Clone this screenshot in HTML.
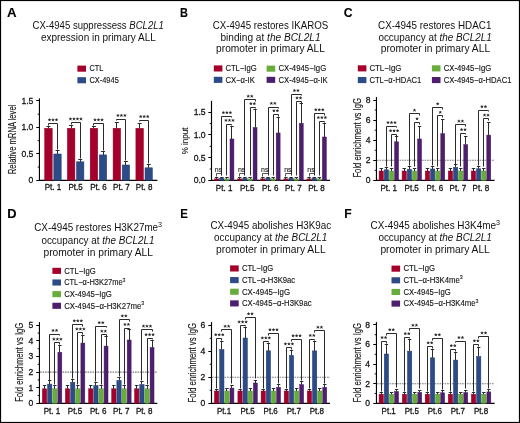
<!DOCTYPE html>
<html><head><meta charset="utf-8"><style>
html,body{margin:0;padding:0;background:#fff;}
body{width:520px;height:423px;overflow:hidden;}
svg{display:block;font-family:"Liberation Sans",sans-serif;will-change:transform;}
text{stroke:#111;stroke-width:0.12px;}
</style></head><body>
<svg width="520" height="423" viewBox="0 0 520 423">
<rect x="0" y="0" width="520" height="423" fill="#fff"/>
<text x="6.90" y="17.20" font-size="12.6" textLength="9.60" lengthAdjust="spacingAndGlyphs" font-weight="bold" fill="#000">A</text>
<text x="179.90" y="17.20" font-size="12.6" textLength="7.90" lengthAdjust="spacingAndGlyphs" font-weight="bold" fill="#000">B</text>
<text x="343.70" y="17.20" font-size="12.6" textLength="8.80" lengthAdjust="spacingAndGlyphs" font-weight="bold" fill="#000">C</text>
<text x="7.30" y="218.20" font-size="12.6" textLength="9.30" lengthAdjust="spacingAndGlyphs" font-weight="bold" fill="#000">D</text>
<text x="180.20" y="218.20" font-size="12.6" textLength="7.60" lengthAdjust="spacingAndGlyphs" font-weight="bold" fill="#000">E</text>
<text x="344.30" y="218.20" font-size="12.6" textLength="7.40" lengthAdjust="spacingAndGlyphs" font-weight="bold" fill="#000">F</text>
<text x="98.20" y="28.90" font-size="10.2" text-anchor="middle" textLength="131.40" lengthAdjust="spacingAndGlyphs" fill="#111" style="stroke-width:0">CX-4945 suppressess <tspan font-style="italic">BCL2L1</tspan></text>
<text x="98.35" y="40.70" font-size="10.2" text-anchor="middle" textLength="114.90" lengthAdjust="spacingAndGlyphs" fill="#111" style="stroke-width:0">expression in primary ALL</text>
<text x="270.50" y="28.80" font-size="10.2" text-anchor="middle" textLength="115.60" lengthAdjust="spacingAndGlyphs" fill="#111" style="stroke-width:0">CX-4945 restores IKAROS</text>
<text x="270.50" y="40.70" font-size="10.2" text-anchor="middle" textLength="100.20" lengthAdjust="spacingAndGlyphs" fill="#111" style="stroke-width:0">binding at <tspan font-style="italic">the BCL2L1</tspan></text>
<text x="270.50" y="52.40" font-size="10.2" text-anchor="middle" textLength="108.80" lengthAdjust="spacingAndGlyphs" fill="#111" style="stroke-width:0">promoter in primary ALL</text>
<text x="434.75" y="28.80" font-size="10.2" text-anchor="middle" textLength="113.30" lengthAdjust="spacingAndGlyphs" fill="#111" style="stroke-width:0">CX-4945 restores HDAC1</text>
<text x="435.05" y="40.70" font-size="10.2" text-anchor="middle" textLength="113.30" lengthAdjust="spacingAndGlyphs" fill="#111" style="stroke-width:0">occupancy at <tspan font-style="italic">the BCL2L1</tspan></text>
<text x="435.40" y="52.40" font-size="10.2" text-anchor="middle" textLength="109.40" lengthAdjust="spacingAndGlyphs" fill="#111" style="stroke-width:0">promoter in primary ALL</text>
<text x="98.15" y="231.30" font-size="10.2" text-anchor="middle" textLength="127.90" lengthAdjust="spacingAndGlyphs" fill="#111" style="stroke-width:0">CX-4945 restores H3K27me<tspan dy="-4.0" font-size="7.4">3</tspan></text>
<text x="97.90" y="243.60" font-size="10.2" text-anchor="middle" textLength="113.00" lengthAdjust="spacingAndGlyphs" fill="#111" style="stroke-width:0">occupancy at <tspan font-style="italic">the BCL2L1</tspan></text>
<text x="98.20" y="255.70" font-size="10.2" text-anchor="middle" textLength="109.40" lengthAdjust="spacingAndGlyphs" fill="#111" style="stroke-width:0">promoter in primary ALL</text>
<text x="270.80" y="228.90" font-size="10.2" text-anchor="middle" textLength="120.80" lengthAdjust="spacingAndGlyphs" fill="#111" style="stroke-width:0">CX-4945 abolishes H3K9ac</text>
<text x="270.70" y="241.00" font-size="10.2" text-anchor="middle" textLength="113.20" lengthAdjust="spacingAndGlyphs" fill="#111" style="stroke-width:0">occupancy at <tspan font-style="italic">the BCL2L1</tspan></text>
<text x="270.85" y="252.90" font-size="10.2" text-anchor="middle" textLength="109.50" lengthAdjust="spacingAndGlyphs" fill="#111" style="stroke-width:0">promoter in primary ALL</text>
<text x="435.35" y="228.80" font-size="10.2" text-anchor="middle" textLength="129.50" lengthAdjust="spacingAndGlyphs" fill="#111" style="stroke-width:0">CX-4945 abolishes H3K4me<tspan dy="-4.0" font-size="7.4">3</tspan></text>
<text x="435.15" y="241.00" font-size="10.2" text-anchor="middle" textLength="113.50" lengthAdjust="spacingAndGlyphs" fill="#111" style="stroke-width:0">occupancy at <tspan font-style="italic">the BCL2L1</tspan></text>
<text x="435.10" y="252.90" font-size="10.2" text-anchor="middle" textLength="109.40" lengthAdjust="spacingAndGlyphs" fill="#111" style="stroke-width:0">promoter in primary ALL</text>
<rect x="77.40" y="65.60" width="8.60" height="6.10" fill="#a5002b"/>
<text x="89.40" y="71.40" font-size="8.8" textLength="13.80" lengthAdjust="spacingAndGlyphs" fill="#111">CTL</text>
<rect x="77.40" y="77.20" width="8.60" height="6.10" fill="#2d4b86"/>
<text x="89.40" y="83.00" font-size="8.8" textLength="29.40" lengthAdjust="spacingAndGlyphs" fill="#111">CX-4945</text>
<rect x="213.80" y="65.40" width="8.60" height="6.10" fill="#a5002b"/>
<text x="225.40" y="71.20" font-size="8.8" textLength="31.20" lengthAdjust="spacingAndGlyphs" fill="#111">CTL−IgG</text>
<rect x="213.80" y="76.80" width="8.60" height="6.10" fill="#2d4b86"/>
<text x="225.40" y="82.60" font-size="8.8" textLength="29.40" lengthAdjust="spacingAndGlyphs" fill="#111">CX−α-IK</text>
<rect x="266.60" y="65.60" width="8.60" height="6.10" fill="#68ad3c"/>
<text x="278.50" y="71.40" font-size="8.8" textLength="47.70" lengthAdjust="spacingAndGlyphs" fill="#111">CX-4945−IgG</text>
<rect x="266.60" y="76.80" width="8.60" height="6.10" fill="#4e1f6e"/>
<text x="278.50" y="82.60" font-size="8.8" textLength="49.20" lengthAdjust="spacingAndGlyphs" fill="#111">CX-4945−α-IK</text>
<rect x="357.80" y="65.30" width="8.60" height="6.10" fill="#a5002b"/>
<text x="369.40" y="71.10" font-size="8.8" textLength="32.00" lengthAdjust="spacingAndGlyphs" fill="#111">CTL−IgG</text>
<rect x="357.80" y="77.00" width="8.60" height="6.10" fill="#2d4b86"/>
<text x="369.40" y="82.80" font-size="8.8" textLength="51.90" lengthAdjust="spacingAndGlyphs" fill="#111">CTL−α-HDAC1</text>
<rect x="431.90" y="65.30" width="8.60" height="6.10" fill="#68ad3c"/>
<text x="443.70" y="71.10" font-size="8.8" textLength="47.60" lengthAdjust="spacingAndGlyphs" fill="#111">CX-4945−IgG</text>
<rect x="431.90" y="77.00" width="8.60" height="6.10" fill="#4e1f6e"/>
<text x="443.70" y="82.80" font-size="8.8" textLength="67.80" lengthAdjust="spacingAndGlyphs" fill="#111">CX-4945−α-HDAC1</text>
<rect x="52.40" y="267.80" width="8.60" height="6.10" fill="#a5002b"/>
<text x="64.20" y="273.60" font-size="8.8" textLength="31.60" lengthAdjust="spacingAndGlyphs" fill="#111">CTL−IgG</text>
<rect x="52.40" y="279.45" width="8.60" height="6.10" fill="#2d4b86"/>
<text x="64.20" y="285.25" font-size="8.8" textLength="61.20" lengthAdjust="spacingAndGlyphs" fill="#111">CTL−α-H3K27me<tspan dy="-3.7" font-size="6.0">3</tspan></text>
<rect x="52.40" y="291.10" width="8.60" height="6.10" fill="#68ad3c"/>
<text x="64.20" y="296.90" font-size="8.8" textLength="47.60" lengthAdjust="spacingAndGlyphs" fill="#111">CX-4945−IgG</text>
<rect x="52.40" y="302.75" width="8.60" height="6.10" fill="#4e1f6e"/>
<text x="64.20" y="308.55" font-size="8.8" textLength="80.10" lengthAdjust="spacingAndGlyphs" fill="#111">CX-4945−α-H3K27me<tspan dy="-3.7" font-size="6.0">3</tspan></text>
<rect x="230.10" y="265.40" width="8.60" height="6.10" fill="#a5002b"/>
<text x="241.90" y="271.20" font-size="8.8" textLength="31.30" lengthAdjust="spacingAndGlyphs" fill="#111">CTL−IgG</text>
<rect x="230.10" y="277.05" width="8.60" height="6.10" fill="#2d4b86"/>
<text x="241.90" y="282.85" font-size="8.8" textLength="53.30" lengthAdjust="spacingAndGlyphs" fill="#111">CTL−α-H3K9ac</text>
<rect x="230.10" y="288.70" width="8.60" height="6.10" fill="#68ad3c"/>
<text x="241.90" y="294.50" font-size="8.8" textLength="48.20" lengthAdjust="spacingAndGlyphs" fill="#111">CX-4945−IgG</text>
<rect x="230.10" y="300.35" width="8.60" height="6.10" fill="#4e1f6e"/>
<text x="241.90" y="306.15" font-size="8.8" textLength="69.70" lengthAdjust="spacingAndGlyphs" fill="#111">CX-4945−α-H3K9ac</text>
<rect x="391.50" y="265.60" width="8.60" height="6.10" fill="#a5002b"/>
<text x="403.40" y="271.40" font-size="8.8" textLength="31.70" lengthAdjust="spacingAndGlyphs" fill="#111">CTL−IgG</text>
<rect x="391.50" y="277.25" width="8.60" height="6.10" fill="#2d4b86"/>
<text x="403.40" y="283.05" font-size="8.8" textLength="59.40" lengthAdjust="spacingAndGlyphs" fill="#111">CTL−α-H3K4me<tspan dy="-3.7" font-size="6.0">3</tspan></text>
<rect x="391.50" y="288.90" width="8.60" height="6.10" fill="#68ad3c"/>
<text x="403.40" y="294.70" font-size="8.8" textLength="47.40" lengthAdjust="spacingAndGlyphs" fill="#111">CX-4945−IgG</text>
<rect x="391.50" y="300.55" width="8.60" height="6.10" fill="#4e1f6e"/>
<text x="403.40" y="306.35" font-size="8.8" textLength="75.10" lengthAdjust="spacingAndGlyphs" fill="#111">CX-4945−α-H3K4me<tspan dy="-3.7" font-size="6.0">3</tspan></text>
<line x1="39.45" y1="98.40" x2="39.45" y2="181.00" stroke="#000" stroke-width="1.15"/>
<line x1="38.90" y1="180.40" x2="157.40" y2="180.40" stroke="#000" stroke-width="1.2"/>
<line x1="36.25" y1="180.50" x2="39.45" y2="180.50" stroke="#000" stroke-width="1.0"/>
<text x="33.40" y="183.20" font-size="9.2" text-anchor="end" textLength="4.78" lengthAdjust="spacingAndGlyphs" fill="#111" style="stroke-width:0.28px">0</text>
<line x1="36.25" y1="153.50" x2="39.45" y2="153.50" stroke="#000" stroke-width="1.0"/>
<text x="33.40" y="156.75" font-size="9.2" text-anchor="end" textLength="11.95" lengthAdjust="spacingAndGlyphs" fill="#111" style="stroke-width:0.28px">0.5</text>
<line x1="36.25" y1="127.50" x2="39.45" y2="127.50" stroke="#000" stroke-width="1.0"/>
<text x="33.40" y="130.30" font-size="9.2" text-anchor="end" textLength="11.95" lengthAdjust="spacingAndGlyphs" fill="#111" style="stroke-width:0.28px">1.0</text>
<line x1="36.25" y1="100.50" x2="39.45" y2="100.50" stroke="#000" stroke-width="1.0"/>
<text x="33.40" y="103.85" font-size="9.2" text-anchor="end" textLength="11.95" lengthAdjust="spacingAndGlyphs" fill="#111" style="stroke-width:0.28px">1.5</text>
<line x1="37.65" y1="167.08" x2="39.45" y2="167.08" stroke="#000" stroke-width="0.9"/>
<line x1="37.65" y1="140.62" x2="39.45" y2="140.62" stroke="#000" stroke-width="0.9"/>
<line x1="37.65" y1="114.18" x2="39.45" y2="114.18" stroke="#000" stroke-width="0.9"/>
<text x="16.00" y="139.40" font-size="10.4" text-anchor="middle" textLength="69.50" lengthAdjust="spacingAndGlyphs" transform="rotate(-90 16.00 139.40)" fill="#111">Relative mRNA level</text>
<rect x="44.70" y="128.30" width="7.50" height="52.00" fill="#a5002b" stroke="#8a0020" stroke-width="0.5"/>
<rect x="53.80" y="154.00" width="7.40" height="26.30" fill="#2d4b86" stroke="#1f3a74" stroke-width="0.5"/>
<line x1="48.50" y1="128.30" x2="48.50" y2="126.40" stroke="#2a2a2a" stroke-width="1.0"/>
<line x1="46.45" y1="126.50" x2="50.45" y2="126.50" stroke="#2a2a2a" stroke-width="1.0"/>
<line x1="57.50" y1="154.00" x2="57.50" y2="150.70" stroke="#2a2a2a" stroke-width="1.0"/>
<line x1="55.50" y1="150.50" x2="59.50" y2="150.50" stroke="#2a2a2a" stroke-width="1.0"/>
<polyline points="48.50,125.50 48.50,123.50 57.50,123.50 57.50,149.50" fill="none" stroke="#2a2a2a" stroke-width="1.0"/>
<path d="M49.50,119.90L49.50,118.80M49.50,119.90L50.55,119.56M49.50,119.90L50.15,120.79M49.50,119.90L48.85,120.79M49.50,119.90L48.45,119.56" stroke="#222" stroke-width="0.8" stroke-linecap="round" fill="none"/>
<path d="M53.00,119.90L53.00,118.80M53.00,119.90L54.05,119.56M53.00,119.90L53.65,120.79M53.00,119.90L52.35,120.79M53.00,119.90L51.95,119.56" stroke="#222" stroke-width="0.8" stroke-linecap="round" fill="none"/>
<path d="M56.50,119.90L56.50,118.80M56.50,119.90L57.55,119.56M56.50,119.90L57.15,120.79M56.50,119.90L55.85,120.79M56.50,119.90L55.45,119.56" stroke="#222" stroke-width="0.8" stroke-linecap="round" fill="none"/>
<text x="52.95" y="190.40" font-size="9.3" text-anchor="middle" textLength="16.56" lengthAdjust="spacingAndGlyphs" fill="#111" style="stroke-width:0.3px">Pt. 1</text>
<rect x="67.40" y="128.30" width="7.50" height="52.00" fill="#a5002b" stroke="#8a0020" stroke-width="0.5"/>
<rect x="76.50" y="161.80" width="7.40" height="18.50" fill="#2d4b86" stroke="#1f3a74" stroke-width="0.5"/>
<line x1="71.50" y1="128.30" x2="71.50" y2="125.20" stroke="#2a2a2a" stroke-width="1.0"/>
<line x1="69.15" y1="125.50" x2="73.15" y2="125.50" stroke="#2a2a2a" stroke-width="1.0"/>
<line x1="80.50" y1="161.80" x2="80.50" y2="159.10" stroke="#2a2a2a" stroke-width="1.0"/>
<line x1="78.20" y1="159.50" x2="82.20" y2="159.50" stroke="#2a2a2a" stroke-width="1.0"/>
<polyline points="71.50,124.50 71.50,122.50 80.50,122.50 80.50,158.50" fill="none" stroke="#2a2a2a" stroke-width="1.0"/>
<path d="M70.45,119.00L70.45,117.90M70.45,119.00L71.50,118.66M70.45,119.00L71.10,119.89M70.45,119.00L69.80,119.89M70.45,119.00L69.40,118.66" stroke="#222" stroke-width="0.8" stroke-linecap="round" fill="none"/>
<path d="M73.95,119.00L73.95,117.90M73.95,119.00L75.00,118.66M73.95,119.00L74.60,119.89M73.95,119.00L73.30,119.89M73.95,119.00L72.90,118.66" stroke="#222" stroke-width="0.8" stroke-linecap="round" fill="none"/>
<path d="M77.45,119.00L77.45,117.90M77.45,119.00L78.50,118.66M77.45,119.00L78.10,119.89M77.45,119.00L76.80,119.89M77.45,119.00L76.40,118.66" stroke="#222" stroke-width="0.8" stroke-linecap="round" fill="none"/>
<path d="M80.95,119.00L80.95,117.90M80.95,119.00L82.00,118.66M80.95,119.00L81.60,119.89M80.95,119.00L80.30,119.89M80.95,119.00L79.90,118.66" stroke="#222" stroke-width="0.8" stroke-linecap="round" fill="none"/>
<text x="75.65" y="190.40" font-size="9.3" text-anchor="middle" textLength="14.32" lengthAdjust="spacingAndGlyphs" fill="#111" style="stroke-width:0.3px">Pt.5</text>
<rect x="90.20" y="128.30" width="7.50" height="52.00" fill="#a5002b" stroke="#8a0020" stroke-width="0.5"/>
<rect x="99.30" y="154.90" width="7.40" height="25.40" fill="#2d4b86" stroke="#1f3a74" stroke-width="0.5"/>
<line x1="93.50" y1="128.30" x2="93.50" y2="126.40" stroke="#2a2a2a" stroke-width="1.0"/>
<line x1="91.95" y1="126.50" x2="95.95" y2="126.50" stroke="#2a2a2a" stroke-width="1.0"/>
<line x1="103.50" y1="154.90" x2="103.50" y2="151.00" stroke="#2a2a2a" stroke-width="1.0"/>
<line x1="101.00" y1="151.50" x2="105.00" y2="151.50" stroke="#2a2a2a" stroke-width="1.0"/>
<polyline points="93.50,125.50 93.50,123.50 103.50,123.50 103.50,150.50" fill="none" stroke="#2a2a2a" stroke-width="1.0"/>
<path d="M95.00,119.90L95.00,118.80M95.00,119.90L96.05,119.56M95.00,119.90L95.65,120.79M95.00,119.90L94.35,120.79M95.00,119.90L93.95,119.56" stroke="#222" stroke-width="0.8" stroke-linecap="round" fill="none"/>
<path d="M98.50,119.90L98.50,118.80M98.50,119.90L99.55,119.56M98.50,119.90L99.15,120.79M98.50,119.90L97.85,120.79M98.50,119.90L97.45,119.56" stroke="#222" stroke-width="0.8" stroke-linecap="round" fill="none"/>
<path d="M102.00,119.90L102.00,118.80M102.00,119.90L103.05,119.56M102.00,119.90L102.65,120.79M102.00,119.90L101.35,120.79M102.00,119.90L100.95,119.56" stroke="#222" stroke-width="0.8" stroke-linecap="round" fill="none"/>
<text x="98.45" y="190.40" font-size="9.3" text-anchor="middle" textLength="16.56" lengthAdjust="spacingAndGlyphs" fill="#111" style="stroke-width:0.3px">Pt. 6</text>
<rect x="113.10" y="128.30" width="7.50" height="52.00" fill="#a5002b" stroke="#8a0020" stroke-width="0.5"/>
<rect x="122.20" y="165.00" width="7.40" height="15.30" fill="#2d4b86" stroke="#1f3a74" stroke-width="0.5"/>
<line x1="116.50" y1="128.30" x2="116.50" y2="122.20" stroke="#2a2a2a" stroke-width="1.0"/>
<line x1="114.85" y1="122.50" x2="118.85" y2="122.50" stroke="#2a2a2a" stroke-width="1.0"/>
<line x1="125.50" y1="165.00" x2="125.50" y2="161.00" stroke="#2a2a2a" stroke-width="1.0"/>
<line x1="123.90" y1="161.50" x2="127.90" y2="161.50" stroke="#2a2a2a" stroke-width="1.0"/>
<polyline points="116.50,120.50 116.50,119.50 125.50,119.50 125.50,160.50" fill="none" stroke="#2a2a2a" stroke-width="1.0"/>
<path d="M117.90,115.50L117.90,114.40M117.90,115.50L118.95,115.16M117.90,115.50L118.55,116.39M117.90,115.50L117.25,116.39M117.90,115.50L116.85,115.16" stroke="#222" stroke-width="0.8" stroke-linecap="round" fill="none"/>
<path d="M121.40,115.50L121.40,114.40M121.40,115.50L122.45,115.16M121.40,115.50L122.05,116.39M121.40,115.50L120.75,116.39M121.40,115.50L120.35,115.16" stroke="#222" stroke-width="0.8" stroke-linecap="round" fill="none"/>
<path d="M124.90,115.50L124.90,114.40M124.90,115.50L125.95,115.16M124.90,115.50L125.55,116.39M124.90,115.50L124.25,116.39M124.90,115.50L123.85,115.16" stroke="#222" stroke-width="0.8" stroke-linecap="round" fill="none"/>
<text x="121.35" y="190.40" font-size="9.3" text-anchor="middle" textLength="16.56" lengthAdjust="spacingAndGlyphs" fill="#111" style="stroke-width:0.3px">Pt. 7</text>
<rect x="135.90" y="128.30" width="7.50" height="52.00" fill="#a5002b" stroke="#8a0020" stroke-width="0.5"/>
<rect x="145.00" y="167.80" width="7.40" height="12.50" fill="#2d4b86" stroke="#1f3a74" stroke-width="0.5"/>
<line x1="139.50" y1="128.30" x2="139.50" y2="123.10" stroke="#2a2a2a" stroke-width="1.0"/>
<line x1="137.65" y1="123.50" x2="141.65" y2="123.50" stroke="#2a2a2a" stroke-width="1.0"/>
<line x1="148.50" y1="167.80" x2="148.50" y2="164.10" stroke="#2a2a2a" stroke-width="1.0"/>
<line x1="146.70" y1="164.50" x2="150.70" y2="164.50" stroke="#2a2a2a" stroke-width="1.0"/>
<polyline points="139.50,121.50 139.50,120.50 148.50,120.50 148.50,163.50" fill="none" stroke="#2a2a2a" stroke-width="1.0"/>
<path d="M140.70,116.60L140.70,115.50M140.70,116.60L141.75,116.26M140.70,116.60L141.35,117.49M140.70,116.60L140.05,117.49M140.70,116.60L139.65,116.26" stroke="#222" stroke-width="0.8" stroke-linecap="round" fill="none"/>
<path d="M144.20,116.60L144.20,115.50M144.20,116.60L145.25,116.26M144.20,116.60L144.85,117.49M144.20,116.60L143.55,117.49M144.20,116.60L143.15,116.26" stroke="#222" stroke-width="0.8" stroke-linecap="round" fill="none"/>
<path d="M147.70,116.60L147.70,115.50M147.70,116.60L148.75,116.26M147.70,116.60L148.35,117.49M147.70,116.60L147.05,117.49M147.70,116.60L146.65,116.26" stroke="#222" stroke-width="0.8" stroke-linecap="round" fill="none"/>
<text x="144.15" y="190.40" font-size="9.3" text-anchor="middle" textLength="16.56" lengthAdjust="spacingAndGlyphs" fill="#111" style="stroke-width:0.3px">Pt. 8</text>
<line x1="211.50" y1="100.90" x2="211.50" y2="181.00" stroke="#000" stroke-width="1.15"/>
<line x1="210.95" y1="180.40" x2="330.00" y2="180.40" stroke="#000" stroke-width="1.2"/>
<line x1="208.30" y1="180.50" x2="211.50" y2="180.50" stroke="#000" stroke-width="1.0"/>
<text x="205.60" y="183.30" font-size="9.2" text-anchor="end" textLength="11.95" lengthAdjust="spacingAndGlyphs" fill="#111" style="stroke-width:0.28px">0.0</text>
<line x1="208.30" y1="157.50" x2="211.50" y2="157.50" stroke="#000" stroke-width="1.0"/>
<text x="205.60" y="160.58" font-size="9.2" text-anchor="end" textLength="11.95" lengthAdjust="spacingAndGlyphs" fill="#111" style="stroke-width:0.28px">0.5</text>
<line x1="208.30" y1="134.50" x2="211.50" y2="134.50" stroke="#000" stroke-width="1.0"/>
<text x="205.60" y="137.85" font-size="9.2" text-anchor="end" textLength="11.95" lengthAdjust="spacingAndGlyphs" fill="#111" style="stroke-width:0.28px">1.0</text>
<line x1="208.30" y1="112.50" x2="211.50" y2="112.50" stroke="#000" stroke-width="1.0"/>
<text x="205.60" y="115.12" font-size="9.2" text-anchor="end" textLength="11.95" lengthAdjust="spacingAndGlyphs" fill="#111" style="stroke-width:0.28px">1.5</text>
<line x1="209.70" y1="169.04" x2="211.50" y2="169.04" stroke="#000" stroke-width="0.9"/>
<line x1="209.70" y1="146.31" x2="211.50" y2="146.31" stroke="#000" stroke-width="0.9"/>
<line x1="209.70" y1="123.59" x2="211.50" y2="123.59" stroke="#000" stroke-width="0.9"/>
<rect x="214.50" y="178.90" width="4.30" height="1.50" fill="#a5002b" stroke="#8a0020" stroke-width="0.5"/>
<line x1="216.50" y1="178.90" x2="216.50" y2="177.20" stroke="#2a2a2a" stroke-width="1.0"/>
<line x1="214.95" y1="177.50" x2="218.35" y2="177.50" stroke="#2a2a2a" stroke-width="1.0"/>
<rect x="219.67" y="178.20" width="4.30" height="2.20" fill="#2d4b86" stroke="#1f3a74" stroke-width="0.5"/>
<line x1="221.50" y1="178.20" x2="221.50" y2="177.00" stroke="#2a2a2a" stroke-width="1.0"/>
<line x1="220.12" y1="177.50" x2="223.52" y2="177.50" stroke="#2a2a2a" stroke-width="1.0"/>
<rect x="224.84" y="178.90" width="4.30" height="1.50" fill="#68ad3c" stroke="#5a9a30" stroke-width="0.5"/>
<line x1="226.50" y1="178.90" x2="226.50" y2="177.20" stroke="#2a2a2a" stroke-width="1.0"/>
<line x1="225.29" y1="177.50" x2="228.69" y2="177.50" stroke="#2a2a2a" stroke-width="1.0"/>
<rect x="230.01" y="139.00" width="3.90" height="41.40" fill="#4e1f6e" stroke="#3e1559" stroke-width="0.5"/>
<line x1="231.50" y1="139.00" x2="231.50" y2="126.70" stroke="#2a2a2a" stroke-width="1.0"/>
<line x1="230.26" y1="126.50" x2="233.66" y2="126.50" stroke="#2a2a2a" stroke-width="1.0"/>
<text x="224.10" y="190.70" font-size="9.3" text-anchor="middle" textLength="16.56" lengthAdjust="spacingAndGlyphs" fill="#111" style="stroke-width:0.3px">Pt. 1</text>
<rect x="237.60" y="178.90" width="4.30" height="1.50" fill="#a5002b" stroke="#8a0020" stroke-width="0.5"/>
<line x1="239.50" y1="178.90" x2="239.50" y2="177.20" stroke="#2a2a2a" stroke-width="1.0"/>
<line x1="238.05" y1="177.50" x2="241.45" y2="177.50" stroke="#2a2a2a" stroke-width="1.0"/>
<rect x="242.77" y="178.20" width="4.30" height="2.20" fill="#2d4b86" stroke="#1f3a74" stroke-width="0.5"/>
<line x1="244.50" y1="178.20" x2="244.50" y2="177.00" stroke="#2a2a2a" stroke-width="1.0"/>
<line x1="243.22" y1="177.50" x2="246.62" y2="177.50" stroke="#2a2a2a" stroke-width="1.0"/>
<rect x="247.94" y="178.90" width="4.30" height="1.50" fill="#68ad3c" stroke="#5a9a30" stroke-width="0.5"/>
<line x1="250.50" y1="178.90" x2="250.50" y2="177.20" stroke="#2a2a2a" stroke-width="1.0"/>
<line x1="248.39" y1="177.50" x2="251.79" y2="177.50" stroke="#2a2a2a" stroke-width="1.0"/>
<rect x="253.11" y="127.60" width="3.90" height="52.80" fill="#4e1f6e" stroke="#3e1559" stroke-width="0.5"/>
<line x1="255.50" y1="127.60" x2="255.50" y2="109.60" stroke="#2a2a2a" stroke-width="1.0"/>
<line x1="253.36" y1="109.50" x2="256.76" y2="109.50" stroke="#2a2a2a" stroke-width="1.0"/>
<text x="247.21" y="190.70" font-size="9.3" text-anchor="middle" textLength="14.32" lengthAdjust="spacingAndGlyphs" fill="#111" style="stroke-width:0.3px">Pt.5</text>
<rect x="260.70" y="178.90" width="4.30" height="1.50" fill="#a5002b" stroke="#8a0020" stroke-width="0.5"/>
<line x1="262.50" y1="178.90" x2="262.50" y2="177.20" stroke="#2a2a2a" stroke-width="1.0"/>
<line x1="261.15" y1="177.50" x2="264.55" y2="177.50" stroke="#2a2a2a" stroke-width="1.0"/>
<rect x="265.87" y="178.20" width="4.30" height="2.20" fill="#2d4b86" stroke="#1f3a74" stroke-width="0.5"/>
<line x1="268.50" y1="178.20" x2="268.50" y2="177.00" stroke="#2a2a2a" stroke-width="1.0"/>
<line x1="266.32" y1="177.50" x2="269.72" y2="177.50" stroke="#2a2a2a" stroke-width="1.0"/>
<rect x="271.04" y="178.90" width="4.30" height="1.50" fill="#68ad3c" stroke="#5a9a30" stroke-width="0.5"/>
<line x1="273.50" y1="178.90" x2="273.50" y2="177.20" stroke="#2a2a2a" stroke-width="1.0"/>
<line x1="271.49" y1="177.50" x2="274.89" y2="177.50" stroke="#2a2a2a" stroke-width="1.0"/>
<rect x="276.21" y="133.00" width="3.90" height="47.40" fill="#4e1f6e" stroke="#3e1559" stroke-width="0.5"/>
<line x1="278.50" y1="133.00" x2="278.50" y2="117.00" stroke="#2a2a2a" stroke-width="1.0"/>
<line x1="276.46" y1="117.50" x2="279.86" y2="117.50" stroke="#2a2a2a" stroke-width="1.0"/>
<text x="270.30" y="190.70" font-size="9.3" text-anchor="middle" textLength="16.56" lengthAdjust="spacingAndGlyphs" fill="#111" style="stroke-width:0.3px">Pt. 6</text>
<rect x="283.80" y="178.90" width="4.30" height="1.50" fill="#a5002b" stroke="#8a0020" stroke-width="0.5"/>
<line x1="285.50" y1="178.90" x2="285.50" y2="177.20" stroke="#2a2a2a" stroke-width="1.0"/>
<line x1="284.25" y1="177.50" x2="287.65" y2="177.50" stroke="#2a2a2a" stroke-width="1.0"/>
<rect x="288.97" y="178.20" width="4.30" height="2.20" fill="#2d4b86" stroke="#1f3a74" stroke-width="0.5"/>
<line x1="291.50" y1="178.20" x2="291.50" y2="177.00" stroke="#2a2a2a" stroke-width="1.0"/>
<line x1="289.42" y1="177.50" x2="292.82" y2="177.50" stroke="#2a2a2a" stroke-width="1.0"/>
<rect x="294.14" y="178.90" width="4.30" height="1.50" fill="#68ad3c" stroke="#5a9a30" stroke-width="0.5"/>
<line x1="296.50" y1="178.90" x2="296.50" y2="177.20" stroke="#2a2a2a" stroke-width="1.0"/>
<line x1="294.59" y1="177.50" x2="297.99" y2="177.50" stroke="#2a2a2a" stroke-width="1.0"/>
<rect x="299.31" y="123.30" width="3.90" height="57.10" fill="#4e1f6e" stroke="#3e1559" stroke-width="0.5"/>
<line x1="301.50" y1="123.30" x2="301.50" y2="103.40" stroke="#2a2a2a" stroke-width="1.0"/>
<line x1="299.56" y1="103.50" x2="302.96" y2="103.50" stroke="#2a2a2a" stroke-width="1.0"/>
<text x="293.40" y="190.70" font-size="9.3" text-anchor="middle" textLength="16.56" lengthAdjust="spacingAndGlyphs" fill="#111" style="stroke-width:0.3px">Pt. 7</text>
<rect x="306.90" y="178.90" width="4.30" height="1.50" fill="#a5002b" stroke="#8a0020" stroke-width="0.5"/>
<line x1="309.50" y1="178.90" x2="309.50" y2="177.20" stroke="#2a2a2a" stroke-width="1.0"/>
<line x1="307.35" y1="177.50" x2="310.75" y2="177.50" stroke="#2a2a2a" stroke-width="1.0"/>
<rect x="312.07" y="178.20" width="4.30" height="2.20" fill="#2d4b86" stroke="#1f3a74" stroke-width="0.5"/>
<line x1="314.50" y1="178.20" x2="314.50" y2="177.00" stroke="#2a2a2a" stroke-width="1.0"/>
<line x1="312.52" y1="177.50" x2="315.92" y2="177.50" stroke="#2a2a2a" stroke-width="1.0"/>
<rect x="317.24" y="178.90" width="4.30" height="1.50" fill="#68ad3c" stroke="#5a9a30" stroke-width="0.5"/>
<line x1="319.50" y1="178.90" x2="319.50" y2="177.20" stroke="#2a2a2a" stroke-width="1.0"/>
<line x1="317.69" y1="177.50" x2="321.09" y2="177.50" stroke="#2a2a2a" stroke-width="1.0"/>
<rect x="322.41" y="137.00" width="3.90" height="43.40" fill="#4e1f6e" stroke="#3e1559" stroke-width="0.5"/>
<line x1="324.50" y1="137.00" x2="324.50" y2="123.30" stroke="#2a2a2a" stroke-width="1.0"/>
<line x1="322.66" y1="123.50" x2="326.06" y2="123.50" stroke="#2a2a2a" stroke-width="1.0"/>
<text x="316.50" y="190.70" font-size="9.3" text-anchor="middle" textLength="16.56" lengthAdjust="spacingAndGlyphs" fill="#111" style="stroke-width:0.3px">Pt. 8</text>
<text x="188.40" y="140.90" font-size="9.8" text-anchor="middle" textLength="26.80" lengthAdjust="spacingAndGlyphs" transform="rotate(-90 188.40 140.90)" fill="#111">% input</text>
<polyline points="221.50,175.50 221.50,116.50 231.50,116.50 231.50,117.50" fill="none" stroke="#2a2a2a" stroke-width="1.0"/>
<path d="M223.39,112.70L223.39,111.60M223.39,112.70L224.44,112.36M223.39,112.70L224.04,113.59M223.39,112.70L222.74,113.59M223.39,112.70L222.34,112.36" stroke="#222" stroke-width="0.8" stroke-linecap="round" fill="none"/>
<path d="M226.89,112.70L226.89,111.60M226.89,112.70L227.94,112.36M226.89,112.70L227.54,113.59M226.89,112.70L226.24,113.59M226.89,112.70L225.84,112.36" stroke="#222" stroke-width="0.8" stroke-linecap="round" fill="none"/>
<path d="M230.39,112.70L230.39,111.60M230.39,112.70L231.44,112.36M230.39,112.70L231.04,113.59M230.39,112.70L229.74,113.59M230.39,112.70L229.34,112.36" stroke="#222" stroke-width="0.8" stroke-linecap="round" fill="none"/>
<polyline points="226.50,175.50 226.50,124.50 231.50,124.50 231.50,125.50" fill="none" stroke="#2a2a2a" stroke-width="1.0"/>
<path d="M225.97,120.40L225.97,119.30M225.97,120.40L227.02,120.06M225.97,120.40L226.62,121.29M225.97,120.40L225.33,121.29M225.97,120.40L224.93,120.06" stroke="#222" stroke-width="0.8" stroke-linecap="round" fill="none"/>
<path d="M229.47,120.40L229.47,119.30M229.47,120.40L230.52,120.06M229.47,120.40L230.12,121.29M229.47,120.40L228.83,121.29M229.47,120.40L228.43,120.06" stroke="#222" stroke-width="0.8" stroke-linecap="round" fill="none"/>
<path d="M232.97,120.40L232.97,119.30M232.97,120.40L234.02,120.06M232.97,120.40L233.62,121.29M232.97,120.40L232.33,121.29M232.97,120.40L231.93,120.06" stroke="#222" stroke-width="0.8" stroke-linecap="round" fill="none"/>
<polyline points="216.50,176.50 216.50,173.50 221.50,173.50 221.50,174.50" fill="none" stroke="#2a2a2a" stroke-width="0.8"/>
<text x="218.55" y="172.40" font-size="7.8" text-anchor="middle" textLength="7.40" lengthAdjust="spacingAndGlyphs" fill="#1a1a1a">ns</text>
<polyline points="244.50,175.50 244.50,99.50 255.50,99.50 255.50,101.50" fill="none" stroke="#2a2a2a" stroke-width="1.0"/>
<path d="M248.24,96.30L248.24,95.20M248.24,96.30L249.29,95.96M248.24,96.30L248.89,97.19M248.24,96.30L247.59,97.19M248.24,96.30L247.19,95.96" stroke="#222" stroke-width="0.8" stroke-linecap="round" fill="none"/>
<path d="M251.74,96.30L251.74,95.20M251.74,96.30L252.79,95.96M251.74,96.30L252.39,97.19M251.74,96.30L251.09,97.19M251.74,96.30L250.69,95.96" stroke="#222" stroke-width="0.8" stroke-linecap="round" fill="none"/>
<polyline points="250.50,175.50 250.50,107.50 255.50,107.50 255.50,108.50" fill="none" stroke="#2a2a2a" stroke-width="1.0"/>
<path d="M250.83,103.70L250.83,102.60M250.83,103.70L251.87,103.36M250.83,103.70L251.47,104.59M250.83,103.70L250.18,104.59M250.83,103.70L249.78,103.36" stroke="#222" stroke-width="0.8" stroke-linecap="round" fill="none"/>
<path d="M254.33,103.70L254.33,102.60M254.33,103.70L255.37,103.36M254.33,103.70L254.97,104.59M254.33,103.70L253.68,104.59M254.33,103.70L253.28,103.36" stroke="#222" stroke-width="0.8" stroke-linecap="round" fill="none"/>
<polyline points="239.50,176.50 239.50,173.50 244.50,173.50 244.50,174.50" fill="none" stroke="#2a2a2a" stroke-width="0.8"/>
<text x="241.65" y="172.40" font-size="7.8" text-anchor="middle" textLength="7.40" lengthAdjust="spacingAndGlyphs" fill="#1a1a1a">ns</text>
<polyline points="268.50,175.50 268.50,107.50 278.50,107.50 278.50,108.50" fill="none" stroke="#2a2a2a" stroke-width="1.0"/>
<path d="M271.34,103.40L271.34,102.30M271.34,103.40L272.39,103.06M271.34,103.40L271.99,104.29M271.34,103.40L270.69,104.29M271.34,103.40L270.29,103.06" stroke="#222" stroke-width="0.8" stroke-linecap="round" fill="none"/>
<path d="M274.84,103.40L274.84,102.30M274.84,103.40L275.89,103.06M274.84,103.40L275.49,104.29M274.84,103.40L274.19,104.29M274.84,103.40L273.79,103.06" stroke="#222" stroke-width="0.8" stroke-linecap="round" fill="none"/>
<polyline points="273.50,175.50 273.50,114.50 278.50,114.50 278.50,116.50" fill="none" stroke="#2a2a2a" stroke-width="1.0"/>
<path d="M273.92,110.80L273.92,109.70M273.92,110.80L274.97,110.46M273.92,110.80L274.57,111.69M273.92,110.80L273.28,111.69M273.92,110.80L272.88,110.46" stroke="#222" stroke-width="0.8" stroke-linecap="round" fill="none"/>
<path d="M277.42,110.80L277.42,109.70M277.42,110.80L278.47,110.46M277.42,110.80L278.07,111.69M277.42,110.80L276.78,111.69M277.42,110.80L276.38,110.46" stroke="#222" stroke-width="0.8" stroke-linecap="round" fill="none"/>
<polyline points="262.50,176.50 262.50,173.50 268.50,173.50 268.50,174.50" fill="none" stroke="#2a2a2a" stroke-width="0.8"/>
<text x="264.75" y="172.40" font-size="7.8" text-anchor="middle" textLength="7.40" lengthAdjust="spacingAndGlyphs" fill="#1a1a1a">ns</text>
<polyline points="291.50,175.50 291.50,94.50 301.50,94.50 301.50,95.50" fill="none" stroke="#2a2a2a" stroke-width="1.0"/>
<path d="M294.44,90.60L294.44,89.50M294.44,90.60L295.49,90.26M294.44,90.60L295.09,91.49M294.44,90.60L293.79,91.49M294.44,90.60L293.39,90.26" stroke="#222" stroke-width="0.8" stroke-linecap="round" fill="none"/>
<path d="M297.94,90.60L297.94,89.50M297.94,90.60L298.99,90.26M297.94,90.60L298.59,91.49M297.94,90.60L297.29,91.49M297.94,90.60L296.89,90.26" stroke="#222" stroke-width="0.8" stroke-linecap="round" fill="none"/>
<polyline points="296.50,175.50 296.50,101.50 301.50,101.50 301.50,103.50" fill="none" stroke="#2a2a2a" stroke-width="1.0"/>
<path d="M297.02,98.00L297.02,96.90M297.02,98.00L298.07,97.66M297.02,98.00L297.67,98.89M297.02,98.00L296.38,98.89M297.02,98.00L295.98,97.66" stroke="#222" stroke-width="0.8" stroke-linecap="round" fill="none"/>
<path d="M300.52,98.00L300.52,96.90M300.52,98.00L301.57,97.66M300.52,98.00L301.17,98.89M300.52,98.00L299.88,98.89M300.52,98.00L299.48,97.66" stroke="#222" stroke-width="0.8" stroke-linecap="round" fill="none"/>
<polyline points="285.50,176.50 285.50,173.50 291.50,173.50 291.50,174.50" fill="none" stroke="#2a2a2a" stroke-width="0.8"/>
<text x="287.85" y="172.40" font-size="7.8" text-anchor="middle" textLength="7.40" lengthAdjust="spacingAndGlyphs" fill="#1a1a1a">ns</text>
<polyline points="314.50,175.50 314.50,113.50 324.50,113.50 324.50,115.50" fill="none" stroke="#2a2a2a" stroke-width="1.0"/>
<path d="M315.79,109.80L315.79,108.70M315.79,109.80L316.84,109.46M315.79,109.80L316.44,110.69M315.79,109.80L315.14,110.69M315.79,109.80L314.74,109.46" stroke="#222" stroke-width="0.8" stroke-linecap="round" fill="none"/>
<path d="M319.29,109.80L319.29,108.70M319.29,109.80L320.34,109.46M319.29,109.80L319.94,110.69M319.29,109.80L318.64,110.69M319.29,109.80L318.24,109.46" stroke="#222" stroke-width="0.8" stroke-linecap="round" fill="none"/>
<path d="M322.79,109.80L322.79,108.70M322.79,109.80L323.84,109.46M322.79,109.80L323.44,110.69M322.79,109.80L322.14,110.69M322.79,109.80L321.74,109.46" stroke="#222" stroke-width="0.8" stroke-linecap="round" fill="none"/>
<polyline points="319.50,175.50 319.50,121.50 324.50,121.50 324.50,122.50" fill="none" stroke="#2a2a2a" stroke-width="1.0"/>
<path d="M318.38,117.60L318.38,116.50M318.38,117.60L319.42,117.26M318.38,117.60L319.02,118.49M318.38,117.60L317.73,118.49M318.38,117.60L317.33,117.26" stroke="#222" stroke-width="0.8" stroke-linecap="round" fill="none"/>
<path d="M321.88,117.60L321.88,116.50M321.88,117.60L322.92,117.26M321.88,117.60L322.52,118.49M321.88,117.60L321.23,118.49M321.88,117.60L320.83,117.26" stroke="#222" stroke-width="0.8" stroke-linecap="round" fill="none"/>
<path d="M325.38,117.60L325.38,116.50M325.38,117.60L326.42,117.26M325.38,117.60L326.02,118.49M325.38,117.60L324.73,118.49M325.38,117.60L324.33,117.26" stroke="#222" stroke-width="0.8" stroke-linecap="round" fill="none"/>
<polyline points="309.50,176.50 309.50,173.50 314.50,173.50 314.50,174.50" fill="none" stroke="#2a2a2a" stroke-width="0.8"/>
<text x="310.95" y="172.40" font-size="7.8" text-anchor="middle" textLength="7.40" lengthAdjust="spacingAndGlyphs" fill="#1a1a1a">ns</text>
<line x1="376.45" y1="97.00" x2="376.45" y2="181.00" stroke="#000" stroke-width="1.15"/>
<line x1="375.90" y1="180.40" x2="494.60" y2="180.40" stroke="#000" stroke-width="1.2"/>
<line x1="373.25" y1="180.50" x2="376.45" y2="180.50" stroke="#000" stroke-width="1.0"/>
<text x="370.60" y="183.30" font-size="9.2" text-anchor="end" textLength="4.78" lengthAdjust="spacingAndGlyphs" fill="#111" style="stroke-width:0.28px">0</text>
<line x1="373.25" y1="160.50" x2="376.45" y2="160.50" stroke="#000" stroke-width="1.0"/>
<text x="370.60" y="163.20" font-size="9.2" text-anchor="end" textLength="4.78" lengthAdjust="spacingAndGlyphs" fill="#111" style="stroke-width:0.28px">2</text>
<line x1="373.25" y1="140.50" x2="376.45" y2="140.50" stroke="#000" stroke-width="1.0"/>
<text x="370.60" y="143.10" font-size="9.2" text-anchor="end" textLength="4.78" lengthAdjust="spacingAndGlyphs" fill="#111" style="stroke-width:0.28px">4</text>
<line x1="373.25" y1="120.50" x2="376.45" y2="120.50" stroke="#000" stroke-width="1.0"/>
<text x="370.60" y="123.00" font-size="9.2" text-anchor="end" textLength="4.78" lengthAdjust="spacingAndGlyphs" fill="#111" style="stroke-width:0.28px">6</text>
<line x1="373.25" y1="100.50" x2="376.45" y2="100.50" stroke="#000" stroke-width="1.0"/>
<text x="370.60" y="102.90" font-size="9.2" text-anchor="end" textLength="4.78" lengthAdjust="spacingAndGlyphs" fill="#111" style="stroke-width:0.28px">8</text>
<line x1="374.65" y1="170.35" x2="376.45" y2="170.35" stroke="#000" stroke-width="0.9"/>
<line x1="374.65" y1="150.25" x2="376.45" y2="150.25" stroke="#000" stroke-width="0.9"/>
<line x1="374.65" y1="130.15" x2="376.45" y2="130.15" stroke="#000" stroke-width="0.9"/>
<line x1="374.65" y1="110.05" x2="376.45" y2="110.05" stroke="#000" stroke-width="0.9"/>
<line x1="377.05" y1="160.30" x2="494.60" y2="160.30" stroke="#7a7a7a" stroke-width="1.1" stroke-dasharray="1.6,0.9"/>
<rect x="379.10" y="171.00" width="4.30" height="9.40" fill="#a5002b" stroke="#8a0020" stroke-width="0.5"/>
<line x1="381.50" y1="171.00" x2="381.50" y2="168.40" stroke="#2a2a2a" stroke-width="1.0"/>
<line x1="379.55" y1="168.50" x2="382.95" y2="168.50" stroke="#2a2a2a" stroke-width="1.0"/>
<rect x="384.27" y="169.80" width="4.30" height="10.60" fill="#2d4b86" stroke="#1f3a74" stroke-width="0.5"/>
<line x1="386.50" y1="169.80" x2="386.50" y2="167.20" stroke="#2a2a2a" stroke-width="1.0"/>
<line x1="384.72" y1="167.50" x2="388.12" y2="167.50" stroke="#2a2a2a" stroke-width="1.0"/>
<rect x="389.44" y="171.00" width="4.30" height="9.40" fill="#68ad3c" stroke="#5a9a30" stroke-width="0.5"/>
<line x1="391.50" y1="171.00" x2="391.50" y2="168.20" stroke="#2a2a2a" stroke-width="1.0"/>
<line x1="389.89" y1="168.50" x2="393.29" y2="168.50" stroke="#2a2a2a" stroke-width="1.0"/>
<rect x="394.61" y="141.80" width="3.90" height="38.60" fill="#4e1f6e" stroke="#3e1559" stroke-width="0.5"/>
<line x1="396.50" y1="141.80" x2="396.50" y2="136.50" stroke="#2a2a2a" stroke-width="1.0"/>
<line x1="394.86" y1="136.50" x2="398.26" y2="136.50" stroke="#2a2a2a" stroke-width="1.0"/>
<text x="388.70" y="190.70" font-size="9.3" text-anchor="middle" textLength="16.56" lengthAdjust="spacingAndGlyphs" fill="#111" style="stroke-width:0.3px">Pt. 1</text>
<rect x="402.10" y="171.00" width="4.30" height="9.40" fill="#a5002b" stroke="#8a0020" stroke-width="0.5"/>
<line x1="404.50" y1="171.00" x2="404.50" y2="168.40" stroke="#2a2a2a" stroke-width="1.0"/>
<line x1="402.55" y1="168.50" x2="405.95" y2="168.50" stroke="#2a2a2a" stroke-width="1.0"/>
<rect x="407.27" y="169.20" width="4.30" height="11.20" fill="#2d4b86" stroke="#1f3a74" stroke-width="0.5"/>
<line x1="409.50" y1="169.20" x2="409.50" y2="166.60" stroke="#2a2a2a" stroke-width="1.0"/>
<line x1="407.72" y1="166.50" x2="411.12" y2="166.50" stroke="#2a2a2a" stroke-width="1.0"/>
<rect x="412.44" y="171.00" width="4.30" height="9.40" fill="#68ad3c" stroke="#5a9a30" stroke-width="0.5"/>
<line x1="414.50" y1="171.00" x2="414.50" y2="168.20" stroke="#2a2a2a" stroke-width="1.0"/>
<line x1="412.89" y1="168.50" x2="416.29" y2="168.50" stroke="#2a2a2a" stroke-width="1.0"/>
<rect x="417.61" y="139.00" width="3.90" height="41.40" fill="#4e1f6e" stroke="#3e1559" stroke-width="0.5"/>
<line x1="419.50" y1="139.00" x2="419.50" y2="126.20" stroke="#2a2a2a" stroke-width="1.0"/>
<line x1="417.86" y1="126.50" x2="421.26" y2="126.50" stroke="#2a2a2a" stroke-width="1.0"/>
<text x="411.70" y="190.70" font-size="9.3" text-anchor="middle" textLength="14.32" lengthAdjust="spacingAndGlyphs" fill="#111" style="stroke-width:0.3px">Pt.5</text>
<rect x="425.30" y="171.00" width="4.30" height="9.40" fill="#a5002b" stroke="#8a0020" stroke-width="0.5"/>
<line x1="427.50" y1="171.00" x2="427.50" y2="168.40" stroke="#2a2a2a" stroke-width="1.0"/>
<line x1="425.75" y1="168.50" x2="429.15" y2="168.50" stroke="#2a2a2a" stroke-width="1.0"/>
<rect x="430.47" y="169.00" width="4.30" height="11.40" fill="#2d4b86" stroke="#1f3a74" stroke-width="0.5"/>
<line x1="432.50" y1="169.00" x2="432.50" y2="166.40" stroke="#2a2a2a" stroke-width="1.0"/>
<line x1="430.92" y1="166.50" x2="434.32" y2="166.50" stroke="#2a2a2a" stroke-width="1.0"/>
<rect x="435.64" y="171.00" width="4.30" height="9.40" fill="#68ad3c" stroke="#5a9a30" stroke-width="0.5"/>
<line x1="437.50" y1="171.00" x2="437.50" y2="168.20" stroke="#2a2a2a" stroke-width="1.0"/>
<line x1="436.09" y1="168.50" x2="439.49" y2="168.50" stroke="#2a2a2a" stroke-width="1.0"/>
<rect x="440.81" y="133.70" width="3.90" height="46.70" fill="#4e1f6e" stroke="#3e1559" stroke-width="0.5"/>
<line x1="442.50" y1="133.70" x2="442.50" y2="119.40" stroke="#2a2a2a" stroke-width="1.0"/>
<line x1="441.06" y1="119.50" x2="444.46" y2="119.50" stroke="#2a2a2a" stroke-width="1.0"/>
<text x="434.90" y="190.70" font-size="9.3" text-anchor="middle" textLength="16.56" lengthAdjust="spacingAndGlyphs" fill="#111" style="stroke-width:0.3px">Pt. 6</text>
<rect x="448.30" y="171.00" width="4.30" height="9.40" fill="#a5002b" stroke="#8a0020" stroke-width="0.5"/>
<line x1="450.50" y1="171.00" x2="450.50" y2="168.40" stroke="#2a2a2a" stroke-width="1.0"/>
<line x1="448.75" y1="168.50" x2="452.15" y2="168.50" stroke="#2a2a2a" stroke-width="1.0"/>
<rect x="453.47" y="167.40" width="4.30" height="13.00" fill="#2d4b86" stroke="#1f3a74" stroke-width="0.5"/>
<line x1="455.50" y1="167.40" x2="455.50" y2="164.80" stroke="#2a2a2a" stroke-width="1.0"/>
<line x1="453.92" y1="164.50" x2="457.32" y2="164.50" stroke="#2a2a2a" stroke-width="1.0"/>
<rect x="458.64" y="171.00" width="4.30" height="9.40" fill="#68ad3c" stroke="#5a9a30" stroke-width="0.5"/>
<line x1="460.50" y1="171.00" x2="460.50" y2="168.20" stroke="#2a2a2a" stroke-width="1.0"/>
<line x1="459.09" y1="168.50" x2="462.49" y2="168.50" stroke="#2a2a2a" stroke-width="1.0"/>
<rect x="463.81" y="144.60" width="3.90" height="35.80" fill="#4e1f6e" stroke="#3e1559" stroke-width="0.5"/>
<line x1="465.50" y1="144.60" x2="465.50" y2="136.60" stroke="#2a2a2a" stroke-width="1.0"/>
<line x1="464.06" y1="136.50" x2="467.46" y2="136.50" stroke="#2a2a2a" stroke-width="1.0"/>
<text x="457.90" y="190.70" font-size="9.3" text-anchor="middle" textLength="16.56" lengthAdjust="spacingAndGlyphs" fill="#111" style="stroke-width:0.3px">Pt. 7</text>
<rect x="471.30" y="171.00" width="4.30" height="9.40" fill="#a5002b" stroke="#8a0020" stroke-width="0.5"/>
<line x1="473.50" y1="171.00" x2="473.50" y2="168.40" stroke="#2a2a2a" stroke-width="1.0"/>
<line x1="471.75" y1="168.50" x2="475.15" y2="168.50" stroke="#2a2a2a" stroke-width="1.0"/>
<rect x="476.47" y="168.80" width="4.30" height="11.60" fill="#2d4b86" stroke="#1f3a74" stroke-width="0.5"/>
<line x1="478.50" y1="168.80" x2="478.50" y2="166.20" stroke="#2a2a2a" stroke-width="1.0"/>
<line x1="476.92" y1="166.50" x2="480.32" y2="166.50" stroke="#2a2a2a" stroke-width="1.0"/>
<rect x="481.64" y="171.00" width="4.30" height="9.40" fill="#68ad3c" stroke="#5a9a30" stroke-width="0.5"/>
<line x1="483.50" y1="171.00" x2="483.50" y2="168.20" stroke="#2a2a2a" stroke-width="1.0"/>
<line x1="482.09" y1="168.50" x2="485.49" y2="168.50" stroke="#2a2a2a" stroke-width="1.0"/>
<rect x="486.81" y="135.10" width="3.90" height="45.30" fill="#4e1f6e" stroke="#3e1559" stroke-width="0.5"/>
<line x1="488.50" y1="135.10" x2="488.50" y2="122.00" stroke="#2a2a2a" stroke-width="1.0"/>
<line x1="487.06" y1="122.50" x2="490.46" y2="122.50" stroke="#2a2a2a" stroke-width="1.0"/>
<text x="480.90" y="190.70" font-size="9.3" text-anchor="middle" textLength="16.56" lengthAdjust="spacingAndGlyphs" fill="#111" style="stroke-width:0.3px">Pt. 8</text>
<text x="360.60" y="137.80" font-size="10.4" text-anchor="middle" textLength="79.60" lengthAdjust="spacingAndGlyphs" transform="rotate(-90 360.60 137.80)" fill="#111">Fold enrichment vs IgG</text>
<polyline points="386.50,166.50 386.50,126.50 396.50,126.50 396.50,127.50" fill="none" stroke="#2a2a2a" stroke-width="1.0"/>
<path d="M387.99,122.60L387.99,121.50M387.99,122.60L389.04,122.26M387.99,122.60L388.64,123.49M387.99,122.60L387.34,123.49M387.99,122.60L386.94,122.26" stroke="#222" stroke-width="0.8" stroke-linecap="round" fill="none"/>
<path d="M391.49,122.60L391.49,121.50M391.49,122.60L392.54,122.26M391.49,122.60L392.14,123.49M391.49,122.60L390.84,123.49M391.49,122.60L390.44,122.26" stroke="#222" stroke-width="0.8" stroke-linecap="round" fill="none"/>
<path d="M394.99,122.60L394.99,121.50M394.99,122.60L396.04,122.26M394.99,122.60L395.64,123.49M394.99,122.60L394.34,123.49M394.99,122.60L393.94,122.26" stroke="#222" stroke-width="0.8" stroke-linecap="round" fill="none"/>
<polyline points="391.50,166.50 391.50,134.50 396.50,134.50 396.50,136.50" fill="none" stroke="#2a2a2a" stroke-width="1.0"/>
<path d="M390.57,130.80L390.57,129.70M390.57,130.80L391.62,130.46M390.57,130.80L391.22,131.69M390.57,130.80L389.93,131.69M390.57,130.80L389.53,130.46" stroke="#222" stroke-width="0.8" stroke-linecap="round" fill="none"/>
<path d="M394.07,130.80L394.07,129.70M394.07,130.80L395.12,130.46M394.07,130.80L394.72,131.69M394.07,130.80L393.43,131.69M394.07,130.80L393.03,130.46" stroke="#222" stroke-width="0.8" stroke-linecap="round" fill="none"/>
<path d="M397.57,130.80L397.57,129.70M397.57,130.80L398.62,130.46M397.57,130.80L398.22,131.69M397.57,130.80L396.93,131.69M397.57,130.80L396.53,130.46" stroke="#222" stroke-width="0.8" stroke-linecap="round" fill="none"/>
<polyline points="409.50,165.50 409.50,113.50 419.50,113.50 419.50,115.50" fill="none" stroke="#2a2a2a" stroke-width="1.0"/>
<path d="M414.49,110.30L414.49,109.20M414.49,110.30L415.54,109.96M414.49,110.30L415.14,111.19M414.49,110.30L413.84,111.19M414.49,110.30L413.44,109.96" stroke="#222" stroke-width="0.8" stroke-linecap="round" fill="none"/>
<polyline points="414.50,166.50 414.50,122.50 419.50,122.50 419.50,124.50" fill="none" stroke="#2a2a2a" stroke-width="1.0"/>
<path d="M417.07,118.80L417.07,117.70M417.07,118.80L418.12,118.46M417.07,118.80L417.72,119.69M417.07,118.80L416.43,119.69M417.07,118.80L416.03,118.46" stroke="#222" stroke-width="0.8" stroke-linecap="round" fill="none"/>
<polyline points="432.50,165.50 432.50,107.50 442.50,107.50 442.50,109.50" fill="none" stroke="#2a2a2a" stroke-width="1.0"/>
<path d="M437.69,103.90L437.69,102.80M437.69,103.90L438.74,103.56M437.69,103.90L438.34,104.79M437.69,103.90L437.04,104.79M437.69,103.90L436.64,103.56" stroke="#222" stroke-width="0.8" stroke-linecap="round" fill="none"/>
<polyline points="437.50,166.50 437.50,115.50 442.50,115.50 442.50,117.50" fill="none" stroke="#2a2a2a" stroke-width="1.0"/>
<path d="M440.27,112.30L440.27,111.20M440.27,112.30L441.32,111.96M440.27,112.30L440.92,113.19M440.27,112.30L439.63,113.19M440.27,112.30L439.23,111.96" stroke="#222" stroke-width="0.8" stroke-linecap="round" fill="none"/>
<polyline points="455.50,164.50 455.50,124.50 465.50,124.50 465.50,126.50" fill="none" stroke="#2a2a2a" stroke-width="1.0"/>
<path d="M458.94,121.20L458.94,120.10M458.94,121.20L459.99,120.86M458.94,121.20L459.59,122.09M458.94,121.20L458.29,122.09M458.94,121.20L457.89,120.86" stroke="#222" stroke-width="0.8" stroke-linecap="round" fill="none"/>
<path d="M462.44,121.20L462.44,120.10M462.44,121.20L463.49,120.86M462.44,121.20L463.09,122.09M462.44,121.20L461.79,122.09M462.44,121.20L461.39,120.86" stroke="#222" stroke-width="0.8" stroke-linecap="round" fill="none"/>
<polyline points="460.50,166.50 460.50,133.50 465.50,133.50 465.50,134.50" fill="none" stroke="#2a2a2a" stroke-width="1.0"/>
<path d="M461.52,129.70L461.52,128.60M461.52,129.70L462.57,129.36M461.52,129.70L462.17,130.59M461.52,129.70L460.88,130.59M461.52,129.70L460.48,129.36" stroke="#222" stroke-width="0.8" stroke-linecap="round" fill="none"/>
<path d="M465.02,129.70L465.02,128.60M465.02,129.70L466.07,129.36M465.02,129.70L465.67,130.59M465.02,129.70L464.38,130.59M465.02,129.70L463.98,129.36" stroke="#222" stroke-width="0.8" stroke-linecap="round" fill="none"/>
<polyline points="478.50,165.50 478.50,110.50 488.50,110.50 488.50,111.50" fill="none" stroke="#2a2a2a" stroke-width="1.0"/>
<path d="M481.94,106.70L481.94,105.60M481.94,106.70L482.99,106.36M481.94,106.70L482.59,107.59M481.94,106.70L481.29,107.59M481.94,106.70L480.89,106.36" stroke="#222" stroke-width="0.8" stroke-linecap="round" fill="none"/>
<path d="M485.44,106.70L485.44,105.60M485.44,106.70L486.49,106.36M485.44,106.70L486.09,107.59M485.44,106.70L484.79,107.59M485.44,106.70L484.39,106.36" stroke="#222" stroke-width="0.8" stroke-linecap="round" fill="none"/>
<polyline points="483.50,166.50 483.50,118.50 488.50,118.50 488.50,120.50" fill="none" stroke="#2a2a2a" stroke-width="1.0"/>
<path d="M484.52,115.20L484.52,114.10M484.52,115.20L485.57,114.86M484.52,115.20L485.17,116.09M484.52,115.20L483.88,116.09M484.52,115.20L483.48,114.86" stroke="#222" stroke-width="0.8" stroke-linecap="round" fill="none"/>
<path d="M488.02,115.20L488.02,114.10M488.02,115.20L489.07,114.86M488.02,115.20L488.67,116.09M488.02,115.20L487.38,116.09M488.02,115.20L486.98,114.86" stroke="#222" stroke-width="0.8" stroke-linecap="round" fill="none"/>
<line x1="39.45" y1="322.10" x2="39.45" y2="403.90" stroke="#000" stroke-width="1.15"/>
<line x1="38.90" y1="403.30" x2="157.30" y2="403.30" stroke="#000" stroke-width="1.2"/>
<line x1="36.25" y1="403.50" x2="39.45" y2="403.50" stroke="#000" stroke-width="1.0"/>
<text x="33.40" y="406.20" font-size="9.2" text-anchor="end" textLength="4.78" lengthAdjust="spacingAndGlyphs" fill="#111" style="stroke-width:0.28px">0</text>
<line x1="36.25" y1="387.50" x2="39.45" y2="387.50" stroke="#000" stroke-width="1.0"/>
<text x="33.40" y="390.60" font-size="9.2" text-anchor="end" textLength="4.78" lengthAdjust="spacingAndGlyphs" fill="#111" style="stroke-width:0.28px">1</text>
<line x1="36.25" y1="372.50" x2="39.45" y2="372.50" stroke="#000" stroke-width="1.0"/>
<text x="33.40" y="375.00" font-size="9.2" text-anchor="end" textLength="4.78" lengthAdjust="spacingAndGlyphs" fill="#111" style="stroke-width:0.28px">2</text>
<line x1="36.25" y1="356.50" x2="39.45" y2="356.50" stroke="#000" stroke-width="1.0"/>
<text x="33.40" y="359.40" font-size="9.2" text-anchor="end" textLength="4.78" lengthAdjust="spacingAndGlyphs" fill="#111" style="stroke-width:0.28px">3</text>
<line x1="36.25" y1="340.50" x2="39.45" y2="340.50" stroke="#000" stroke-width="1.0"/>
<text x="33.40" y="343.80" font-size="9.2" text-anchor="end" textLength="4.78" lengthAdjust="spacingAndGlyphs" fill="#111" style="stroke-width:0.28px">4</text>
<line x1="36.25" y1="325.50" x2="39.45" y2="325.50" stroke="#000" stroke-width="1.0"/>
<text x="33.40" y="328.20" font-size="9.2" text-anchor="end" textLength="4.78" lengthAdjust="spacingAndGlyphs" fill="#111" style="stroke-width:0.28px">5</text>
<line x1="37.65" y1="395.50" x2="39.45" y2="395.50" stroke="#000" stroke-width="0.9"/>
<line x1="37.65" y1="379.90" x2="39.45" y2="379.90" stroke="#000" stroke-width="0.9"/>
<line x1="37.65" y1="364.30" x2="39.45" y2="364.30" stroke="#000" stroke-width="0.9"/>
<line x1="37.65" y1="348.70" x2="39.45" y2="348.70" stroke="#000" stroke-width="0.9"/>
<line x1="37.65" y1="333.10" x2="39.45" y2="333.10" stroke="#000" stroke-width="0.9"/>
<line x1="40.05" y1="372.10" x2="157.30" y2="372.10" stroke="#7a7a7a" stroke-width="1.1" stroke-dasharray="1.6,0.9"/>
<rect x="42.40" y="388.80" width="4.30" height="14.50" fill="#a5002b" stroke="#8a0020" stroke-width="0.5"/>
<line x1="44.50" y1="388.80" x2="44.50" y2="385.40" stroke="#2a2a2a" stroke-width="1.0"/>
<line x1="42.85" y1="385.50" x2="46.25" y2="385.50" stroke="#2a2a2a" stroke-width="1.0"/>
<rect x="47.57" y="384.10" width="4.30" height="19.20" fill="#2d4b86" stroke="#1f3a74" stroke-width="0.5"/>
<line x1="49.50" y1="384.10" x2="49.50" y2="380.90" stroke="#2a2a2a" stroke-width="1.0"/>
<line x1="48.02" y1="380.50" x2="51.42" y2="380.50" stroke="#2a2a2a" stroke-width="1.0"/>
<rect x="52.74" y="388.80" width="4.30" height="14.50" fill="#68ad3c" stroke="#5a9a30" stroke-width="0.5"/>
<line x1="54.50" y1="388.80" x2="54.50" y2="385.40" stroke="#2a2a2a" stroke-width="1.0"/>
<line x1="53.19" y1="385.50" x2="56.59" y2="385.50" stroke="#2a2a2a" stroke-width="1.0"/>
<rect x="57.91" y="352.30" width="3.90" height="51.00" fill="#4e1f6e" stroke="#3e1559" stroke-width="0.5"/>
<line x1="59.50" y1="352.30" x2="59.50" y2="345.10" stroke="#2a2a2a" stroke-width="1.0"/>
<line x1="58.16" y1="345.50" x2="61.56" y2="345.50" stroke="#2a2a2a" stroke-width="1.0"/>
<text x="52.01" y="413.60" font-size="9.3" text-anchor="middle" textLength="16.56" lengthAdjust="spacingAndGlyphs" fill="#111" style="stroke-width:0.3px">Pt. 1</text>
<rect x="65.40" y="388.80" width="4.30" height="14.50" fill="#a5002b" stroke="#8a0020" stroke-width="0.5"/>
<line x1="67.50" y1="388.80" x2="67.50" y2="385.40" stroke="#2a2a2a" stroke-width="1.0"/>
<line x1="65.85" y1="385.50" x2="69.25" y2="385.50" stroke="#2a2a2a" stroke-width="1.0"/>
<rect x="70.57" y="382.30" width="4.30" height="21.00" fill="#2d4b86" stroke="#1f3a74" stroke-width="0.5"/>
<line x1="72.50" y1="382.30" x2="72.50" y2="379.10" stroke="#2a2a2a" stroke-width="1.0"/>
<line x1="71.02" y1="379.50" x2="74.42" y2="379.50" stroke="#2a2a2a" stroke-width="1.0"/>
<rect x="75.74" y="388.80" width="4.30" height="14.50" fill="#68ad3c" stroke="#5a9a30" stroke-width="0.5"/>
<line x1="77.50" y1="388.80" x2="77.50" y2="385.40" stroke="#2a2a2a" stroke-width="1.0"/>
<line x1="76.19" y1="385.50" x2="79.59" y2="385.50" stroke="#2a2a2a" stroke-width="1.0"/>
<rect x="80.91" y="343.10" width="3.90" height="60.20" fill="#4e1f6e" stroke="#3e1559" stroke-width="0.5"/>
<line x1="82.50" y1="343.10" x2="82.50" y2="335.30" stroke="#2a2a2a" stroke-width="1.0"/>
<line x1="81.16" y1="335.50" x2="84.56" y2="335.50" stroke="#2a2a2a" stroke-width="1.0"/>
<text x="75.00" y="413.60" font-size="9.3" text-anchor="middle" textLength="14.32" lengthAdjust="spacingAndGlyphs" fill="#111" style="stroke-width:0.3px">Pt.5</text>
<rect x="88.60" y="388.80" width="4.30" height="14.50" fill="#a5002b" stroke="#8a0020" stroke-width="0.5"/>
<line x1="90.50" y1="388.80" x2="90.50" y2="385.40" stroke="#2a2a2a" stroke-width="1.0"/>
<line x1="89.05" y1="385.50" x2="92.45" y2="385.50" stroke="#2a2a2a" stroke-width="1.0"/>
<rect x="93.77" y="385.50" width="4.30" height="17.80" fill="#2d4b86" stroke="#1f3a74" stroke-width="0.5"/>
<line x1="95.50" y1="385.50" x2="95.50" y2="382.30" stroke="#2a2a2a" stroke-width="1.0"/>
<line x1="94.22" y1="382.50" x2="97.62" y2="382.50" stroke="#2a2a2a" stroke-width="1.0"/>
<rect x="98.94" y="388.80" width="4.30" height="14.50" fill="#68ad3c" stroke="#5a9a30" stroke-width="0.5"/>
<line x1="101.50" y1="388.80" x2="101.50" y2="385.40" stroke="#2a2a2a" stroke-width="1.0"/>
<line x1="99.39" y1="385.50" x2="102.79" y2="385.50" stroke="#2a2a2a" stroke-width="1.0"/>
<rect x="104.11" y="346.10" width="3.90" height="57.20" fill="#4e1f6e" stroke="#3e1559" stroke-width="0.5"/>
<line x1="106.50" y1="346.10" x2="106.50" y2="336.90" stroke="#2a2a2a" stroke-width="1.0"/>
<line x1="104.36" y1="336.50" x2="107.76" y2="336.50" stroke="#2a2a2a" stroke-width="1.0"/>
<text x="98.20" y="413.60" font-size="9.3" text-anchor="middle" textLength="16.56" lengthAdjust="spacingAndGlyphs" fill="#111" style="stroke-width:0.3px">Pt. 6</text>
<rect x="111.70" y="388.80" width="4.30" height="14.50" fill="#a5002b" stroke="#8a0020" stroke-width="0.5"/>
<line x1="113.50" y1="388.80" x2="113.50" y2="385.40" stroke="#2a2a2a" stroke-width="1.0"/>
<line x1="112.15" y1="385.50" x2="115.55" y2="385.50" stroke="#2a2a2a" stroke-width="1.0"/>
<rect x="116.87" y="380.40" width="4.30" height="22.90" fill="#2d4b86" stroke="#1f3a74" stroke-width="0.5"/>
<line x1="119.50" y1="380.40" x2="119.50" y2="377.20" stroke="#2a2a2a" stroke-width="1.0"/>
<line x1="117.32" y1="377.50" x2="120.72" y2="377.50" stroke="#2a2a2a" stroke-width="1.0"/>
<rect x="122.04" y="388.80" width="4.30" height="14.50" fill="#68ad3c" stroke="#5a9a30" stroke-width="0.5"/>
<line x1="124.50" y1="388.80" x2="124.50" y2="385.40" stroke="#2a2a2a" stroke-width="1.0"/>
<line x1="122.49" y1="385.50" x2="125.89" y2="385.50" stroke="#2a2a2a" stroke-width="1.0"/>
<rect x="127.21" y="340.00" width="3.90" height="63.30" fill="#4e1f6e" stroke="#3e1559" stroke-width="0.5"/>
<line x1="129.50" y1="340.00" x2="129.50" y2="329.80" stroke="#2a2a2a" stroke-width="1.0"/>
<line x1="127.46" y1="329.50" x2="130.86" y2="329.50" stroke="#2a2a2a" stroke-width="1.0"/>
<text x="121.31" y="413.60" font-size="9.3" text-anchor="middle" textLength="16.56" lengthAdjust="spacingAndGlyphs" fill="#111" style="stroke-width:0.3px">Pt. 7</text>
<rect x="134.60" y="388.80" width="4.30" height="14.50" fill="#a5002b" stroke="#8a0020" stroke-width="0.5"/>
<line x1="136.50" y1="388.80" x2="136.50" y2="385.40" stroke="#2a2a2a" stroke-width="1.0"/>
<line x1="135.05" y1="385.50" x2="138.45" y2="385.50" stroke="#2a2a2a" stroke-width="1.0"/>
<rect x="139.77" y="384.50" width="4.30" height="18.80" fill="#2d4b86" stroke="#1f3a74" stroke-width="0.5"/>
<line x1="141.50" y1="384.50" x2="141.50" y2="381.30" stroke="#2a2a2a" stroke-width="1.0"/>
<line x1="140.22" y1="381.50" x2="143.62" y2="381.50" stroke="#2a2a2a" stroke-width="1.0"/>
<rect x="144.94" y="388.80" width="4.30" height="14.50" fill="#68ad3c" stroke="#5a9a30" stroke-width="0.5"/>
<line x1="147.50" y1="388.80" x2="147.50" y2="385.40" stroke="#2a2a2a" stroke-width="1.0"/>
<line x1="145.39" y1="385.50" x2="148.79" y2="385.50" stroke="#2a2a2a" stroke-width="1.0"/>
<rect x="150.11" y="347.60" width="3.90" height="55.70" fill="#4e1f6e" stroke="#3e1559" stroke-width="0.5"/>
<line x1="152.50" y1="347.60" x2="152.50" y2="340.20" stroke="#2a2a2a" stroke-width="1.0"/>
<line x1="150.36" y1="340.50" x2="153.76" y2="340.50" stroke="#2a2a2a" stroke-width="1.0"/>
<text x="144.21" y="413.60" font-size="9.3" text-anchor="middle" textLength="16.56" lengthAdjust="spacingAndGlyphs" fill="#111" style="stroke-width:0.3px">Pt. 8</text>
<text x="23.20" y="362.30" font-size="10.4" text-anchor="middle" textLength="79.00" lengthAdjust="spacingAndGlyphs" transform="rotate(-90 23.20 362.30)" fill="#111">Fold enrichment vs IgG</text>
<polyline points="49.50,380.50 49.50,334.50 59.50,334.50 59.50,335.50" fill="none" stroke="#2a2a2a" stroke-width="1.0"/>
<path d="M53.04,330.50L53.04,329.40M53.04,330.50L54.09,330.16M53.04,330.50L53.69,331.39M53.04,330.50L52.39,331.39M53.04,330.50L51.99,330.16" stroke="#222" stroke-width="0.8" stroke-linecap="round" fill="none"/>
<path d="M56.54,330.50L56.54,329.40M56.54,330.50L57.59,330.16M56.54,330.50L57.19,331.39M56.54,330.50L55.89,331.39M56.54,330.50L55.49,330.16" stroke="#222" stroke-width="0.8" stroke-linecap="round" fill="none"/>
<polyline points="54.50,384.50 54.50,342.50 59.50,342.50 59.50,344.50" fill="none" stroke="#2a2a2a" stroke-width="1.0"/>
<path d="M53.88,339.20L53.88,338.10M53.88,339.20L54.92,338.86M53.88,339.20L54.52,340.09M53.88,339.20L53.23,340.09M53.88,339.20L52.83,338.86" stroke="#222" stroke-width="0.8" stroke-linecap="round" fill="none"/>
<path d="M57.38,339.20L57.38,338.10M57.38,339.20L58.42,338.86M57.38,339.20L58.02,340.09M57.38,339.20L56.73,340.09M57.38,339.20L56.33,338.86" stroke="#222" stroke-width="0.8" stroke-linecap="round" fill="none"/>
<path d="M60.88,339.20L60.88,338.10M60.88,339.20L61.92,338.86M60.88,339.20L61.52,340.09M60.88,339.20L60.23,340.09M60.88,339.20L59.83,338.86" stroke="#222" stroke-width="0.8" stroke-linecap="round" fill="none"/>
<polyline points="72.50,378.50 72.50,324.50 82.50,324.50 82.50,326.50" fill="none" stroke="#2a2a2a" stroke-width="1.0"/>
<path d="M74.29,320.90L74.29,319.80M74.29,320.90L75.34,320.56M74.29,320.90L74.94,321.79M74.29,320.90L73.64,321.79M74.29,320.90L73.24,320.56" stroke="#222" stroke-width="0.8" stroke-linecap="round" fill="none"/>
<path d="M77.79,320.90L77.79,319.80M77.79,320.90L78.84,320.56M77.79,320.90L78.44,321.79M77.79,320.90L77.14,321.79M77.79,320.90L76.74,320.56" stroke="#222" stroke-width="0.8" stroke-linecap="round" fill="none"/>
<path d="M81.29,320.90L81.29,319.80M81.29,320.90L82.34,320.56M81.29,320.90L81.94,321.79M81.29,320.90L80.64,321.79M81.29,320.90L80.24,320.56" stroke="#222" stroke-width="0.8" stroke-linecap="round" fill="none"/>
<polyline points="77.50,384.50 77.50,332.50 82.50,332.50 82.50,334.50" fill="none" stroke="#2a2a2a" stroke-width="1.0"/>
<path d="M76.88,329.10L76.88,328.00M76.88,329.10L77.92,328.76M76.88,329.10L77.52,329.99M76.88,329.10L76.23,329.99M76.88,329.10L75.83,328.76" stroke="#222" stroke-width="0.8" stroke-linecap="round" fill="none"/>
<path d="M80.38,329.10L80.38,328.00M80.38,329.10L81.42,328.76M80.38,329.10L81.02,329.99M80.38,329.10L79.73,329.99M80.38,329.10L79.33,328.76" stroke="#222" stroke-width="0.8" stroke-linecap="round" fill="none"/>
<path d="M83.88,329.10L83.88,328.00M83.88,329.10L84.92,328.76M83.88,329.10L84.52,329.99M83.88,329.10L83.23,329.99M83.88,329.10L82.83,328.76" stroke="#222" stroke-width="0.8" stroke-linecap="round" fill="none"/>
<polyline points="95.50,381.50 95.50,326.50 106.50,326.50 106.50,327.50" fill="none" stroke="#2a2a2a" stroke-width="1.0"/>
<path d="M99.24,322.70L99.24,321.60M99.24,322.70L100.29,322.36M99.24,322.70L99.89,323.59M99.24,322.70L98.59,323.59M99.24,322.70L98.19,322.36" stroke="#222" stroke-width="0.8" stroke-linecap="round" fill="none"/>
<path d="M102.74,322.70L102.74,321.60M102.74,322.70L103.79,322.36M102.74,322.70L103.39,323.59M102.74,322.70L102.09,323.59M102.74,322.70L101.69,322.36" stroke="#222" stroke-width="0.8" stroke-linecap="round" fill="none"/>
<polyline points="101.50,384.50 101.50,334.50 106.50,334.50 106.50,336.50" fill="none" stroke="#2a2a2a" stroke-width="1.0"/>
<path d="M101.83,331.20L101.83,330.10M101.83,331.20L102.87,330.86M101.83,331.20L102.47,332.09M101.83,331.20L101.18,332.09M101.83,331.20L100.78,330.86" stroke="#222" stroke-width="0.8" stroke-linecap="round" fill="none"/>
<path d="M105.33,331.20L105.33,330.10M105.33,331.20L106.37,330.86M105.33,331.20L105.97,332.09M105.33,331.20L104.68,332.09M105.33,331.20L104.28,330.86" stroke="#222" stroke-width="0.8" stroke-linecap="round" fill="none"/>
<polyline points="119.50,376.50 119.50,319.50 129.50,319.50 129.50,321.50" fill="none" stroke="#2a2a2a" stroke-width="1.0"/>
<path d="M122.34,316.00L122.34,314.90M122.34,316.00L123.39,315.66M122.34,316.00L122.99,316.89M122.34,316.00L121.69,316.89M122.34,316.00L121.29,315.66" stroke="#222" stroke-width="0.8" stroke-linecap="round" fill="none"/>
<path d="M125.84,316.00L125.84,314.90M125.84,316.00L126.89,315.66M125.84,316.00L126.49,316.89M125.84,316.00L125.19,316.89M125.84,316.00L124.79,315.66" stroke="#222" stroke-width="0.8" stroke-linecap="round" fill="none"/>
<polyline points="124.50,384.50 124.50,328.50 129.50,328.50 129.50,329.50" fill="none" stroke="#2a2a2a" stroke-width="1.0"/>
<path d="M124.93,324.50L124.93,323.40M124.93,324.50L125.97,324.16M124.93,324.50L125.57,325.39M124.93,324.50L124.28,325.39M124.93,324.50L123.88,324.16" stroke="#222" stroke-width="0.8" stroke-linecap="round" fill="none"/>
<path d="M128.43,324.50L128.43,323.40M128.43,324.50L129.47,324.16M128.43,324.50L129.07,325.39M128.43,324.50L127.78,325.39M128.43,324.50L127.38,324.16" stroke="#222" stroke-width="0.8" stroke-linecap="round" fill="none"/>
<polyline points="141.50,380.50 141.50,329.50 152.50,329.50 152.50,331.50" fill="none" stroke="#2a2a2a" stroke-width="1.0"/>
<path d="M143.49,326.20L143.49,325.10M143.49,326.20L144.54,325.86M143.49,326.20L144.14,327.09M143.49,326.20L142.84,327.09M143.49,326.20L142.44,325.86" stroke="#222" stroke-width="0.8" stroke-linecap="round" fill="none"/>
<path d="M146.99,326.20L146.99,325.10M146.99,326.20L148.04,325.86M146.99,326.20L147.64,327.09M146.99,326.20L146.34,327.09M146.99,326.20L145.94,325.86" stroke="#222" stroke-width="0.8" stroke-linecap="round" fill="none"/>
<path d="M150.49,326.20L150.49,325.10M150.49,326.20L151.54,325.86M150.49,326.20L151.14,327.09M150.49,326.20L149.84,327.09M150.49,326.20L149.44,325.86" stroke="#222" stroke-width="0.8" stroke-linecap="round" fill="none"/>
<polyline points="147.50,384.50 147.50,338.50 152.50,338.50 152.50,339.50" fill="none" stroke="#2a2a2a" stroke-width="1.0"/>
<path d="M146.08,334.70L146.08,333.60M146.08,334.70L147.12,334.36M146.08,334.70L146.72,335.59M146.08,334.70L145.43,335.59M146.08,334.70L145.03,334.36" stroke="#222" stroke-width="0.8" stroke-linecap="round" fill="none"/>
<path d="M149.58,334.70L149.58,333.60M149.58,334.70L150.62,334.36M149.58,334.70L150.22,335.59M149.58,334.70L148.93,335.59M149.58,334.70L148.53,334.36" stroke="#222" stroke-width="0.8" stroke-linecap="round" fill="none"/>
<path d="M153.08,334.70L153.08,333.60M153.08,334.70L154.12,334.36M153.08,334.70L153.72,335.59M153.08,334.70L152.43,335.59M153.08,334.70L152.03,334.36" stroke="#222" stroke-width="0.8" stroke-linecap="round" fill="none"/>
<line x1="211.50" y1="322.10" x2="211.50" y2="403.90" stroke="#000" stroke-width="1.15"/>
<line x1="210.95" y1="403.30" x2="330.00" y2="403.30" stroke="#000" stroke-width="1.2"/>
<line x1="208.30" y1="403.50" x2="211.50" y2="403.50" stroke="#000" stroke-width="1.0"/>
<text x="205.40" y="406.20" font-size="9.2" text-anchor="end" textLength="4.78" lengthAdjust="spacingAndGlyphs" fill="#111" style="stroke-width:0.28px">0</text>
<line x1="208.30" y1="377.50" x2="211.50" y2="377.50" stroke="#000" stroke-width="1.0"/>
<text x="205.40" y="380.20" font-size="9.2" text-anchor="end" textLength="4.78" lengthAdjust="spacingAndGlyphs" fill="#111" style="stroke-width:0.28px">2</text>
<line x1="208.30" y1="351.50" x2="211.50" y2="351.50" stroke="#000" stroke-width="1.0"/>
<text x="205.40" y="354.20" font-size="9.2" text-anchor="end" textLength="4.78" lengthAdjust="spacingAndGlyphs" fill="#111" style="stroke-width:0.28px">4</text>
<line x1="208.30" y1="325.50" x2="211.50" y2="325.50" stroke="#000" stroke-width="1.0"/>
<text x="205.40" y="328.20" font-size="9.2" text-anchor="end" textLength="4.78" lengthAdjust="spacingAndGlyphs" fill="#111" style="stroke-width:0.28px">6</text>
<line x1="209.70" y1="390.30" x2="211.50" y2="390.30" stroke="#000" stroke-width="0.9"/>
<line x1="209.70" y1="364.30" x2="211.50" y2="364.30" stroke="#000" stroke-width="0.9"/>
<line x1="209.70" y1="338.30" x2="211.50" y2="338.30" stroke="#000" stroke-width="0.9"/>
<line x1="212.10" y1="377.30" x2="330.00" y2="377.30" stroke="#7a7a7a" stroke-width="1.1" stroke-dasharray="1.6,0.9"/>
<rect x="214.50" y="391.00" width="4.30" height="12.30" fill="#a5002b" stroke="#8a0020" stroke-width="0.5"/>
<line x1="216.50" y1="391.00" x2="216.50" y2="389.00" stroke="#2a2a2a" stroke-width="1.0"/>
<line x1="214.95" y1="389.50" x2="218.35" y2="389.50" stroke="#2a2a2a" stroke-width="1.0"/>
<rect x="219.67" y="349.50" width="4.30" height="53.80" fill="#2d4b86" stroke="#1f3a74" stroke-width="0.5"/>
<line x1="221.50" y1="349.50" x2="221.50" y2="341.20" stroke="#2a2a2a" stroke-width="1.0"/>
<line x1="220.12" y1="341.50" x2="223.52" y2="341.50" stroke="#2a2a2a" stroke-width="1.0"/>
<rect x="224.84" y="391.00" width="4.30" height="12.30" fill="#68ad3c" stroke="#5a9a30" stroke-width="0.5"/>
<line x1="226.50" y1="391.00" x2="226.50" y2="388.80" stroke="#2a2a2a" stroke-width="1.0"/>
<line x1="225.29" y1="388.50" x2="228.69" y2="388.50" stroke="#2a2a2a" stroke-width="1.0"/>
<rect x="230.01" y="388.10" width="3.90" height="15.20" fill="#4e1f6e" stroke="#3e1559" stroke-width="0.5"/>
<line x1="231.50" y1="388.10" x2="231.50" y2="385.10" stroke="#2a2a2a" stroke-width="1.0"/>
<line x1="230.26" y1="385.50" x2="233.66" y2="385.50" stroke="#2a2a2a" stroke-width="1.0"/>
<text x="224.10" y="413.60" font-size="9.3" text-anchor="middle" textLength="14.23" lengthAdjust="spacingAndGlyphs" fill="#111" style="stroke-width:0.3px">Pt.1</text>
<rect x="237.90" y="391.00" width="4.30" height="12.30" fill="#a5002b" stroke="#8a0020" stroke-width="0.5"/>
<line x1="240.50" y1="391.00" x2="240.50" y2="389.00" stroke="#2a2a2a" stroke-width="1.0"/>
<line x1="238.35" y1="389.50" x2="241.75" y2="389.50" stroke="#2a2a2a" stroke-width="1.0"/>
<rect x="243.07" y="338.00" width="4.30" height="65.30" fill="#2d4b86" stroke="#1f3a74" stroke-width="0.5"/>
<line x1="245.50" y1="338.00" x2="245.50" y2="327.70" stroke="#2a2a2a" stroke-width="1.0"/>
<line x1="243.52" y1="327.50" x2="246.92" y2="327.50" stroke="#2a2a2a" stroke-width="1.0"/>
<rect x="248.24" y="391.00" width="4.30" height="12.30" fill="#68ad3c" stroke="#5a9a30" stroke-width="0.5"/>
<line x1="250.50" y1="391.00" x2="250.50" y2="388.80" stroke="#2a2a2a" stroke-width="1.0"/>
<line x1="248.69" y1="388.50" x2="252.09" y2="388.50" stroke="#2a2a2a" stroke-width="1.0"/>
<rect x="253.41" y="383.00" width="3.90" height="20.30" fill="#4e1f6e" stroke="#3e1559" stroke-width="0.5"/>
<line x1="255.50" y1="383.00" x2="255.50" y2="380.00" stroke="#2a2a2a" stroke-width="1.0"/>
<line x1="253.66" y1="380.50" x2="257.06" y2="380.50" stroke="#2a2a2a" stroke-width="1.0"/>
<text x="247.50" y="413.60" font-size="9.3" text-anchor="middle" textLength="14.23" lengthAdjust="spacingAndGlyphs" fill="#111" style="stroke-width:0.3px">Pt.5</text>
<rect x="261.10" y="391.00" width="4.30" height="12.30" fill="#a5002b" stroke="#8a0020" stroke-width="0.5"/>
<line x1="263.50" y1="391.00" x2="263.50" y2="389.00" stroke="#2a2a2a" stroke-width="1.0"/>
<line x1="261.55" y1="389.50" x2="264.95" y2="389.50" stroke="#2a2a2a" stroke-width="1.0"/>
<rect x="266.27" y="350.80" width="4.30" height="52.50" fill="#2d4b86" stroke="#1f3a74" stroke-width="0.5"/>
<line x1="268.50" y1="350.80" x2="268.50" y2="343.30" stroke="#2a2a2a" stroke-width="1.0"/>
<line x1="266.72" y1="343.50" x2="270.12" y2="343.50" stroke="#2a2a2a" stroke-width="1.0"/>
<rect x="271.44" y="391.00" width="4.30" height="12.30" fill="#68ad3c" stroke="#5a9a30" stroke-width="0.5"/>
<line x1="273.50" y1="391.00" x2="273.50" y2="388.80" stroke="#2a2a2a" stroke-width="1.0"/>
<line x1="271.89" y1="388.50" x2="275.29" y2="388.50" stroke="#2a2a2a" stroke-width="1.0"/>
<rect x="276.61" y="387.30" width="3.90" height="16.00" fill="#4e1f6e" stroke="#3e1559" stroke-width="0.5"/>
<line x1="278.50" y1="387.30" x2="278.50" y2="384.30" stroke="#2a2a2a" stroke-width="1.0"/>
<line x1="276.86" y1="384.50" x2="280.26" y2="384.50" stroke="#2a2a2a" stroke-width="1.0"/>
<text x="270.70" y="413.60" font-size="9.3" text-anchor="middle" textLength="14.23" lengthAdjust="spacingAndGlyphs" fill="#111" style="stroke-width:0.3px">Pt.6</text>
<rect x="284.20" y="391.00" width="4.30" height="12.30" fill="#a5002b" stroke="#8a0020" stroke-width="0.5"/>
<line x1="286.50" y1="391.00" x2="286.50" y2="389.00" stroke="#2a2a2a" stroke-width="1.0"/>
<line x1="284.65" y1="389.50" x2="288.05" y2="389.50" stroke="#2a2a2a" stroke-width="1.0"/>
<rect x="289.37" y="355.40" width="4.30" height="47.90" fill="#2d4b86" stroke="#1f3a74" stroke-width="0.5"/>
<line x1="291.50" y1="355.40" x2="291.50" y2="350.50" stroke="#2a2a2a" stroke-width="1.0"/>
<line x1="289.82" y1="350.50" x2="293.22" y2="350.50" stroke="#2a2a2a" stroke-width="1.0"/>
<rect x="294.54" y="391.00" width="4.30" height="12.30" fill="#68ad3c" stroke="#5a9a30" stroke-width="0.5"/>
<line x1="296.50" y1="391.00" x2="296.50" y2="388.80" stroke="#2a2a2a" stroke-width="1.0"/>
<line x1="294.99" y1="388.50" x2="298.39" y2="388.50" stroke="#2a2a2a" stroke-width="1.0"/>
<rect x="299.71" y="384.70" width="3.90" height="18.60" fill="#4e1f6e" stroke="#3e1559" stroke-width="0.5"/>
<line x1="301.50" y1="384.70" x2="301.50" y2="381.70" stroke="#2a2a2a" stroke-width="1.0"/>
<line x1="299.96" y1="381.50" x2="303.36" y2="381.50" stroke="#2a2a2a" stroke-width="1.0"/>
<text x="293.80" y="413.60" font-size="9.3" text-anchor="middle" textLength="14.23" lengthAdjust="spacingAndGlyphs" fill="#111" style="stroke-width:0.3px">Pt.7</text>
<rect x="307.30" y="391.00" width="4.30" height="12.30" fill="#a5002b" stroke="#8a0020" stroke-width="0.5"/>
<line x1="309.50" y1="391.00" x2="309.50" y2="389.00" stroke="#2a2a2a" stroke-width="1.0"/>
<line x1="307.75" y1="389.50" x2="311.15" y2="389.50" stroke="#2a2a2a" stroke-width="1.0"/>
<rect x="312.47" y="350.90" width="4.30" height="52.40" fill="#2d4b86" stroke="#1f3a74" stroke-width="0.5"/>
<line x1="314.50" y1="350.90" x2="314.50" y2="341.20" stroke="#2a2a2a" stroke-width="1.0"/>
<line x1="312.92" y1="341.50" x2="316.32" y2="341.50" stroke="#2a2a2a" stroke-width="1.0"/>
<rect x="317.64" y="391.00" width="4.30" height="12.30" fill="#68ad3c" stroke="#5a9a30" stroke-width="0.5"/>
<line x1="319.50" y1="391.00" x2="319.50" y2="388.80" stroke="#2a2a2a" stroke-width="1.0"/>
<line x1="318.09" y1="388.50" x2="321.49" y2="388.50" stroke="#2a2a2a" stroke-width="1.0"/>
<rect x="322.81" y="387.30" width="3.90" height="16.00" fill="#4e1f6e" stroke="#3e1559" stroke-width="0.5"/>
<line x1="324.50" y1="387.30" x2="324.50" y2="384.30" stroke="#2a2a2a" stroke-width="1.0"/>
<line x1="323.06" y1="384.50" x2="326.46" y2="384.50" stroke="#2a2a2a" stroke-width="1.0"/>
<text x="316.90" y="413.60" font-size="9.3" text-anchor="middle" textLength="14.23" lengthAdjust="spacingAndGlyphs" fill="#111" style="stroke-width:0.3px">Pt.8</text>
<text x="195.80" y="362.70" font-size="10.4" text-anchor="middle" textLength="79.60" lengthAdjust="spacingAndGlyphs" transform="rotate(-90 195.80 362.70)" fill="#111">Fold enrichment vs IgG</text>
<polyline points="216.50,388.50 216.50,338.50 221.50,338.50 221.50,340.50" fill="none" stroke="#2a2a2a" stroke-width="1.0"/>
<path d="M215.74,334.80L215.74,333.70M215.74,334.80L216.78,334.46M215.74,334.80L216.38,335.69M215.74,334.80L215.09,335.69M215.74,334.80L214.69,334.46" stroke="#222" stroke-width="0.8" stroke-linecap="round" fill="none"/>
<path d="M219.24,334.80L219.24,333.70M219.24,334.80L220.28,334.46M219.24,334.80L219.88,335.69M219.24,334.80L218.59,335.69M219.24,334.80L218.19,334.46" stroke="#222" stroke-width="0.8" stroke-linecap="round" fill="none"/>
<path d="M222.74,334.80L222.74,333.70M222.74,334.80L223.78,334.46M222.74,334.80L223.38,335.69M222.74,334.80L222.09,335.69M222.74,334.80L221.69,334.46" stroke="#222" stroke-width="0.8" stroke-linecap="round" fill="none"/>
<polyline points="221.50,331.50 221.50,329.50 231.50,329.50 231.50,383.50" fill="none" stroke="#2a2a2a" stroke-width="1.0"/>
<path d="M225.14,326.30L225.14,325.20M225.14,326.30L226.19,325.96M225.14,326.30L225.79,327.19M225.14,326.30L224.49,327.19M225.14,326.30L224.09,325.96" stroke="#222" stroke-width="0.8" stroke-linecap="round" fill="none"/>
<path d="M228.64,326.30L228.64,325.20M228.64,326.30L229.69,325.96M228.64,326.30L229.29,327.19M228.64,326.30L227.99,327.19M228.64,326.30L227.59,325.96" stroke="#222" stroke-width="0.8" stroke-linecap="round" fill="none"/>
<polyline points="240.50,388.50 240.50,325.50 245.50,325.50 245.50,326.50" fill="none" stroke="#2a2a2a" stroke-width="1.0"/>
<path d="M239.13,322.00L239.13,320.90M239.13,322.00L240.18,321.66M239.13,322.00L239.78,322.89M239.13,322.00L238.49,322.89M239.13,322.00L238.09,321.66" stroke="#222" stroke-width="0.8" stroke-linecap="round" fill="none"/>
<path d="M242.63,322.00L242.63,320.90M242.63,322.00L243.68,321.66M242.63,322.00L243.28,322.89M242.63,322.00L241.99,322.89M242.63,322.00L241.59,321.66" stroke="#222" stroke-width="0.8" stroke-linecap="round" fill="none"/>
<path d="M246.13,322.00L246.13,320.90M246.13,322.00L247.18,321.66M246.13,322.00L246.78,322.89M246.13,322.00L245.49,322.89M246.13,322.00L245.09,321.66" stroke="#222" stroke-width="0.8" stroke-linecap="round" fill="none"/>
<polyline points="245.50,319.50 245.50,317.50 255.50,317.50 255.50,378.50" fill="none" stroke="#2a2a2a" stroke-width="1.0"/>
<path d="M248.54,313.90L248.54,312.80M248.54,313.90L249.59,313.56M248.54,313.90L249.19,314.79M248.54,313.90L247.89,314.79M248.54,313.90L247.49,313.56" stroke="#222" stroke-width="0.8" stroke-linecap="round" fill="none"/>
<path d="M252.04,313.90L252.04,312.80M252.04,313.90L253.09,313.56M252.04,313.90L252.69,314.79M252.04,313.90L251.39,314.79M252.04,313.90L250.99,313.56" stroke="#222" stroke-width="0.8" stroke-linecap="round" fill="none"/>
<polyline points="263.50,388.50 263.50,341.50 268.50,341.50 268.50,342.50" fill="none" stroke="#2a2a2a" stroke-width="1.0"/>
<path d="M262.34,338.00L262.34,336.90M262.34,338.00L263.38,337.66M262.34,338.00L262.98,338.89M262.34,338.00L261.69,338.89M262.34,338.00L261.29,337.66" stroke="#222" stroke-width="0.8" stroke-linecap="round" fill="none"/>
<path d="M265.84,338.00L265.84,336.90M265.84,338.00L266.88,337.66M265.84,338.00L266.48,338.89M265.84,338.00L265.19,338.89M265.84,338.00L264.79,337.66" stroke="#222" stroke-width="0.8" stroke-linecap="round" fill="none"/>
<path d="M269.34,338.00L269.34,336.90M269.34,338.00L270.38,337.66M269.34,338.00L269.98,338.89M269.34,338.00L268.69,338.89M269.34,338.00L268.29,337.66" stroke="#222" stroke-width="0.8" stroke-linecap="round" fill="none"/>
<polyline points="268.50,335.50 268.50,333.50 278.50,333.50 278.50,383.50" fill="none" stroke="#2a2a2a" stroke-width="1.0"/>
<path d="M269.99,329.80L269.99,328.70M269.99,329.80L271.04,329.46M269.99,329.80L270.64,330.69M269.99,329.80L269.34,330.69M269.99,329.80L268.94,329.46" stroke="#222" stroke-width="0.8" stroke-linecap="round" fill="none"/>
<path d="M273.49,329.80L273.49,328.70M273.49,329.80L274.54,329.46M273.49,329.80L274.14,330.69M273.49,329.80L272.84,330.69M273.49,329.80L272.44,329.46" stroke="#222" stroke-width="0.8" stroke-linecap="round" fill="none"/>
<path d="M276.99,329.80L276.99,328.70M276.99,329.80L278.04,329.46M276.99,329.80L277.64,330.69M276.99,329.80L276.34,330.69M276.99,329.80L275.94,329.46" stroke="#222" stroke-width="0.8" stroke-linecap="round" fill="none"/>
<polyline points="286.50,388.50 286.50,347.50 291.50,347.50 291.50,349.50" fill="none" stroke="#2a2a2a" stroke-width="1.0"/>
<path d="M285.43,344.00L285.43,342.90M285.43,344.00L286.48,343.66M285.43,344.00L286.08,344.89M285.43,344.00L284.79,344.89M285.43,344.00L284.39,343.66" stroke="#222" stroke-width="0.8" stroke-linecap="round" fill="none"/>
<path d="M288.93,344.00L288.93,342.90M288.93,344.00L289.98,343.66M288.93,344.00L289.58,344.89M288.93,344.00L288.29,344.89M288.93,344.00L287.89,343.66" stroke="#222" stroke-width="0.8" stroke-linecap="round" fill="none"/>
<path d="M292.43,344.00L292.43,342.90M292.43,344.00L293.48,343.66M292.43,344.00L293.08,344.89M292.43,344.00L291.79,344.89M292.43,344.00L291.39,343.66" stroke="#222" stroke-width="0.8" stroke-linecap="round" fill="none"/>
<polyline points="291.50,341.50 291.50,339.50 301.50,339.50 301.50,380.50" fill="none" stroke="#2a2a2a" stroke-width="1.0"/>
<path d="M293.09,335.80L293.09,334.70M293.09,335.80L294.14,335.46M293.09,335.80L293.74,336.69M293.09,335.80L292.44,336.69M293.09,335.80L292.04,335.46" stroke="#222" stroke-width="0.8" stroke-linecap="round" fill="none"/>
<path d="M296.59,335.80L296.59,334.70M296.59,335.80L297.64,335.46M296.59,335.80L297.24,336.69M296.59,335.80L295.94,336.69M296.59,335.80L295.54,335.46" stroke="#222" stroke-width="0.8" stroke-linecap="round" fill="none"/>
<path d="M300.09,335.80L300.09,334.70M300.09,335.80L301.14,335.46M300.09,335.80L300.74,336.69M300.09,335.80L299.44,336.69M300.09,335.80L299.04,335.46" stroke="#222" stroke-width="0.8" stroke-linecap="round" fill="none"/>
<polyline points="309.50,388.50 309.50,339.50 314.50,339.50 314.50,340.50" fill="none" stroke="#2a2a2a" stroke-width="1.0"/>
<path d="M310.28,335.50L310.28,334.40M310.28,335.50L311.33,335.16M310.28,335.50L310.93,336.39M310.28,335.50L309.64,336.39M310.28,335.50L309.24,335.16" stroke="#222" stroke-width="0.8" stroke-linecap="round" fill="none"/>
<path d="M313.78,335.50L313.78,334.40M313.78,335.50L314.83,335.16M313.78,335.50L314.43,336.39M313.78,335.50L313.14,336.39M313.78,335.50L312.74,335.16" stroke="#222" stroke-width="0.8" stroke-linecap="round" fill="none"/>
<polyline points="314.50,332.50 314.50,330.50 324.50,330.50 324.50,383.50" fill="none" stroke="#2a2a2a" stroke-width="1.0"/>
<path d="M317.94,327.30L317.94,326.20M317.94,327.30L318.99,326.96M317.94,327.30L318.59,328.19M317.94,327.30L317.29,328.19M317.94,327.30L316.89,326.96" stroke="#222" stroke-width="0.8" stroke-linecap="round" fill="none"/>
<path d="M321.44,327.30L321.44,326.20M321.44,327.30L322.49,326.96M321.44,327.30L322.09,328.19M321.44,327.30L320.79,328.19M321.44,327.30L320.39,326.96" stroke="#222" stroke-width="0.8" stroke-linecap="round" fill="none"/>
<line x1="376.45" y1="322.10" x2="376.45" y2="403.90" stroke="#000" stroke-width="1.15"/>
<line x1="375.90" y1="403.30" x2="494.60" y2="403.30" stroke="#000" stroke-width="1.2"/>
<line x1="373.25" y1="403.50" x2="376.45" y2="403.50" stroke="#000" stroke-width="1.0"/>
<text x="370.00" y="406.20" font-size="9.2" text-anchor="end" textLength="4.78" lengthAdjust="spacingAndGlyphs" fill="#111" style="stroke-width:0.28px">0</text>
<line x1="373.25" y1="383.50" x2="376.45" y2="383.50" stroke="#000" stroke-width="1.0"/>
<text x="370.00" y="386.60" font-size="9.2" text-anchor="end" textLength="4.78" lengthAdjust="spacingAndGlyphs" fill="#111" style="stroke-width:0.28px">2</text>
<line x1="373.25" y1="364.50" x2="376.45" y2="364.50" stroke="#000" stroke-width="1.0"/>
<text x="370.00" y="367.00" font-size="9.2" text-anchor="end" textLength="4.78" lengthAdjust="spacingAndGlyphs" fill="#111" style="stroke-width:0.28px">4</text>
<line x1="373.25" y1="344.50" x2="376.45" y2="344.50" stroke="#000" stroke-width="1.0"/>
<text x="370.00" y="347.40" font-size="9.2" text-anchor="end" textLength="4.78" lengthAdjust="spacingAndGlyphs" fill="#111" style="stroke-width:0.28px">6</text>
<line x1="373.25" y1="324.50" x2="376.45" y2="324.50" stroke="#000" stroke-width="1.0"/>
<text x="370.00" y="327.80" font-size="9.2" text-anchor="end" textLength="4.78" lengthAdjust="spacingAndGlyphs" fill="#111" style="stroke-width:0.28px">8</text>
<line x1="374.65" y1="393.50" x2="376.45" y2="393.50" stroke="#000" stroke-width="0.9"/>
<line x1="374.65" y1="373.90" x2="376.45" y2="373.90" stroke="#000" stroke-width="0.9"/>
<line x1="374.65" y1="354.30" x2="376.45" y2="354.30" stroke="#000" stroke-width="0.9"/>
<line x1="374.65" y1="334.70" x2="376.45" y2="334.70" stroke="#000" stroke-width="0.9"/>
<line x1="377.05" y1="383.70" x2="494.60" y2="383.70" stroke="#7a7a7a" stroke-width="1.1" stroke-dasharray="1.6,0.9"/>
<rect x="379.10" y="394.20" width="4.30" height="9.10" fill="#a5002b" stroke="#8a0020" stroke-width="0.5"/>
<line x1="381.50" y1="394.20" x2="381.50" y2="392.40" stroke="#2a2a2a" stroke-width="1.0"/>
<line x1="379.55" y1="392.50" x2="382.95" y2="392.50" stroke="#2a2a2a" stroke-width="1.0"/>
<rect x="384.27" y="354.00" width="4.30" height="49.30" fill="#2d4b86" stroke="#1f3a74" stroke-width="0.5"/>
<line x1="386.50" y1="354.00" x2="386.50" y2="344.50" stroke="#2a2a2a" stroke-width="1.0"/>
<line x1="384.72" y1="344.50" x2="388.12" y2="344.50" stroke="#2a2a2a" stroke-width="1.0"/>
<rect x="389.44" y="394.20" width="4.30" height="9.10" fill="#68ad3c" stroke="#5a9a30" stroke-width="0.5"/>
<line x1="391.50" y1="394.20" x2="391.50" y2="392.40" stroke="#2a2a2a" stroke-width="1.0"/>
<line x1="389.89" y1="392.50" x2="393.29" y2="392.50" stroke="#2a2a2a" stroke-width="1.0"/>
<rect x="394.61" y="391.50" width="3.90" height="11.80" fill="#4e1f6e" stroke="#3e1559" stroke-width="0.5"/>
<line x1="396.50" y1="391.50" x2="396.50" y2="389.30" stroke="#2a2a2a" stroke-width="1.0"/>
<line x1="394.86" y1="389.50" x2="398.26" y2="389.50" stroke="#2a2a2a" stroke-width="1.0"/>
<text x="388.70" y="413.60" font-size="9.3" text-anchor="middle" textLength="14.23" lengthAdjust="spacingAndGlyphs" fill="#111" style="stroke-width:0.3px">Pt.1</text>
<rect x="402.30" y="394.20" width="4.30" height="9.10" fill="#a5002b" stroke="#8a0020" stroke-width="0.5"/>
<line x1="404.50" y1="394.20" x2="404.50" y2="392.40" stroke="#2a2a2a" stroke-width="1.0"/>
<line x1="402.75" y1="392.50" x2="406.15" y2="392.50" stroke="#2a2a2a" stroke-width="1.0"/>
<rect x="407.47" y="351.20" width="4.30" height="52.10" fill="#2d4b86" stroke="#1f3a74" stroke-width="0.5"/>
<line x1="409.50" y1="351.20" x2="409.50" y2="339.80" stroke="#2a2a2a" stroke-width="1.0"/>
<line x1="407.92" y1="339.50" x2="411.32" y2="339.50" stroke="#2a2a2a" stroke-width="1.0"/>
<rect x="412.64" y="394.20" width="4.30" height="9.10" fill="#68ad3c" stroke="#5a9a30" stroke-width="0.5"/>
<line x1="414.50" y1="394.20" x2="414.50" y2="392.40" stroke="#2a2a2a" stroke-width="1.0"/>
<line x1="413.09" y1="392.50" x2="416.49" y2="392.50" stroke="#2a2a2a" stroke-width="1.0"/>
<rect x="417.81" y="392.40" width="3.90" height="10.90" fill="#4e1f6e" stroke="#3e1559" stroke-width="0.5"/>
<line x1="419.50" y1="392.40" x2="419.50" y2="390.20" stroke="#2a2a2a" stroke-width="1.0"/>
<line x1="418.06" y1="390.50" x2="421.46" y2="390.50" stroke="#2a2a2a" stroke-width="1.0"/>
<text x="411.90" y="413.60" font-size="9.3" text-anchor="middle" textLength="14.23" lengthAdjust="spacingAndGlyphs" fill="#111" style="stroke-width:0.3px">Pt.5</text>
<rect x="425.20" y="394.20" width="4.30" height="9.10" fill="#a5002b" stroke="#8a0020" stroke-width="0.5"/>
<line x1="427.50" y1="394.20" x2="427.50" y2="392.40" stroke="#2a2a2a" stroke-width="1.0"/>
<line x1="425.65" y1="392.50" x2="429.05" y2="392.50" stroke="#2a2a2a" stroke-width="1.0"/>
<rect x="430.37" y="357.80" width="4.30" height="45.50" fill="#2d4b86" stroke="#1f3a74" stroke-width="0.5"/>
<line x1="432.50" y1="357.80" x2="432.50" y2="349.30" stroke="#2a2a2a" stroke-width="1.0"/>
<line x1="430.82" y1="349.50" x2="434.22" y2="349.50" stroke="#2a2a2a" stroke-width="1.0"/>
<rect x="435.54" y="394.20" width="4.30" height="9.10" fill="#68ad3c" stroke="#5a9a30" stroke-width="0.5"/>
<line x1="437.50" y1="394.20" x2="437.50" y2="392.40" stroke="#2a2a2a" stroke-width="1.0"/>
<line x1="435.99" y1="392.50" x2="439.39" y2="392.50" stroke="#2a2a2a" stroke-width="1.0"/>
<rect x="440.71" y="392.80" width="3.90" height="10.50" fill="#4e1f6e" stroke="#3e1559" stroke-width="0.5"/>
<line x1="442.50" y1="392.80" x2="442.50" y2="390.60" stroke="#2a2a2a" stroke-width="1.0"/>
<line x1="440.96" y1="390.50" x2="444.36" y2="390.50" stroke="#2a2a2a" stroke-width="1.0"/>
<text x="434.80" y="413.60" font-size="9.3" text-anchor="middle" textLength="14.23" lengthAdjust="spacingAndGlyphs" fill="#111" style="stroke-width:0.3px">Pt.6</text>
<rect x="448.30" y="394.20" width="4.30" height="9.10" fill="#a5002b" stroke="#8a0020" stroke-width="0.5"/>
<line x1="450.50" y1="394.20" x2="450.50" y2="392.40" stroke="#2a2a2a" stroke-width="1.0"/>
<line x1="448.75" y1="392.50" x2="452.15" y2="392.50" stroke="#2a2a2a" stroke-width="1.0"/>
<rect x="453.47" y="360.10" width="4.30" height="43.20" fill="#2d4b86" stroke="#1f3a74" stroke-width="0.5"/>
<line x1="455.50" y1="360.10" x2="455.50" y2="352.20" stroke="#2a2a2a" stroke-width="1.0"/>
<line x1="453.92" y1="352.50" x2="457.32" y2="352.50" stroke="#2a2a2a" stroke-width="1.0"/>
<rect x="458.64" y="394.20" width="4.30" height="9.10" fill="#68ad3c" stroke="#5a9a30" stroke-width="0.5"/>
<line x1="460.50" y1="394.20" x2="460.50" y2="392.40" stroke="#2a2a2a" stroke-width="1.0"/>
<line x1="459.09" y1="392.50" x2="462.49" y2="392.50" stroke="#2a2a2a" stroke-width="1.0"/>
<rect x="463.81" y="392.60" width="3.90" height="10.70" fill="#4e1f6e" stroke="#3e1559" stroke-width="0.5"/>
<line x1="465.50" y1="392.60" x2="465.50" y2="390.40" stroke="#2a2a2a" stroke-width="1.0"/>
<line x1="464.06" y1="390.50" x2="467.46" y2="390.50" stroke="#2a2a2a" stroke-width="1.0"/>
<text x="457.90" y="413.60" font-size="9.3" text-anchor="middle" textLength="14.23" lengthAdjust="spacingAndGlyphs" fill="#111" style="stroke-width:0.3px">Pt.7</text>
<rect x="471.40" y="394.20" width="4.30" height="9.10" fill="#a5002b" stroke="#8a0020" stroke-width="0.5"/>
<line x1="473.50" y1="394.20" x2="473.50" y2="392.40" stroke="#2a2a2a" stroke-width="1.0"/>
<line x1="471.85" y1="392.50" x2="475.25" y2="392.50" stroke="#2a2a2a" stroke-width="1.0"/>
<rect x="476.57" y="356.60" width="4.30" height="46.70" fill="#2d4b86" stroke="#1f3a74" stroke-width="0.5"/>
<line x1="478.50" y1="356.60" x2="478.50" y2="347.30" stroke="#2a2a2a" stroke-width="1.0"/>
<line x1="477.02" y1="347.50" x2="480.42" y2="347.50" stroke="#2a2a2a" stroke-width="1.0"/>
<rect x="481.74" y="394.20" width="4.30" height="9.10" fill="#68ad3c" stroke="#5a9a30" stroke-width="0.5"/>
<line x1="483.50" y1="394.20" x2="483.50" y2="392.40" stroke="#2a2a2a" stroke-width="1.0"/>
<line x1="482.19" y1="392.50" x2="485.59" y2="392.50" stroke="#2a2a2a" stroke-width="1.0"/>
<rect x="486.91" y="391.90" width="3.90" height="11.40" fill="#4e1f6e" stroke="#3e1559" stroke-width="0.5"/>
<line x1="488.50" y1="391.90" x2="488.50" y2="389.70" stroke="#2a2a2a" stroke-width="1.0"/>
<line x1="487.16" y1="389.50" x2="490.56" y2="389.50" stroke="#2a2a2a" stroke-width="1.0"/>
<text x="481.00" y="413.60" font-size="9.3" text-anchor="middle" textLength="14.23" lengthAdjust="spacingAndGlyphs" fill="#111" style="stroke-width:0.3px">Pt.8</text>
<text x="360.80" y="362.70" font-size="10.4" text-anchor="middle" textLength="79.60" lengthAdjust="spacingAndGlyphs" transform="rotate(-90 360.80 362.70)" fill="#111">Fold enrichment vs IgG</text>
<polyline points="381.50,391.50 381.50,341.50 386.50,341.50 386.50,343.50" fill="none" stroke="#2a2a2a" stroke-width="1.0"/>
<path d="M382.09,337.60L382.09,336.50M382.09,337.60L383.13,337.26M382.09,337.60L382.73,338.49M382.09,337.60L381.44,338.49M382.09,337.60L381.04,337.26" stroke="#222" stroke-width="0.8" stroke-linecap="round" fill="none"/>
<path d="M385.59,337.60L385.59,336.50M385.59,337.60L386.63,337.26M385.59,337.60L386.23,338.49M385.59,337.60L384.94,338.49M385.59,337.60L384.54,337.26" stroke="#222" stroke-width="0.8" stroke-linecap="round" fill="none"/>
<polyline points="386.50,335.50 386.50,333.50 396.50,333.50 396.50,387.50" fill="none" stroke="#2a2a2a" stroke-width="1.0"/>
<path d="M389.74,329.80L389.74,328.70M389.74,329.80L390.79,329.46M389.74,329.80L390.39,330.69M389.74,329.80L389.09,330.69M389.74,329.80L388.69,329.46" stroke="#222" stroke-width="0.8" stroke-linecap="round" fill="none"/>
<path d="M393.24,329.80L393.24,328.70M393.24,329.80L394.29,329.46M393.24,329.80L393.89,330.69M393.24,329.80L392.59,330.69M393.24,329.80L392.19,329.46" stroke="#222" stroke-width="0.8" stroke-linecap="round" fill="none"/>
<polyline points="404.50,391.50 404.50,337.50 409.50,337.50 409.50,338.50" fill="none" stroke="#2a2a2a" stroke-width="1.0"/>
<path d="M405.28,333.70L405.28,332.60M405.28,333.70L406.33,333.36M405.28,333.70L405.93,334.59M405.28,333.70L404.64,334.59M405.28,333.70L404.24,333.36" stroke="#222" stroke-width="0.8" stroke-linecap="round" fill="none"/>
<path d="M408.78,333.70L408.78,332.60M408.78,333.70L409.83,333.36M408.78,333.70L409.43,334.59M408.78,333.70L408.14,334.59M408.78,333.70L407.74,333.36" stroke="#222" stroke-width="0.8" stroke-linecap="round" fill="none"/>
<polyline points="409.50,330.50 409.50,328.50 419.50,328.50 419.50,388.50" fill="none" stroke="#2a2a2a" stroke-width="1.0"/>
<path d="M412.94,325.30L412.94,324.20M412.94,325.30L413.99,324.96M412.94,325.30L413.59,326.19M412.94,325.30L412.29,326.19M412.94,325.30L411.89,324.96" stroke="#222" stroke-width="0.8" stroke-linecap="round" fill="none"/>
<path d="M416.44,325.30L416.44,324.20M416.44,325.30L417.49,324.96M416.44,325.30L417.09,326.19M416.44,325.30L415.79,326.19M416.44,325.30L415.39,324.96" stroke="#222" stroke-width="0.8" stroke-linecap="round" fill="none"/>
<polyline points="427.50,391.50 427.50,346.50 432.50,346.50 432.50,348.50" fill="none" stroke="#2a2a2a" stroke-width="1.0"/>
<path d="M428.18,342.90L428.18,341.80M428.18,342.90L429.23,342.56M428.18,342.90L428.83,343.79M428.18,342.90L427.54,343.79M428.18,342.90L427.14,342.56" stroke="#222" stroke-width="0.8" stroke-linecap="round" fill="none"/>
<path d="M431.68,342.90L431.68,341.80M431.68,342.90L432.73,342.56M431.68,342.90L432.33,343.79M431.68,342.90L431.04,343.79M431.68,342.90L430.64,342.56" stroke="#222" stroke-width="0.8" stroke-linecap="round" fill="none"/>
<polyline points="432.50,340.50 432.50,338.50 442.50,338.50 442.50,389.50" fill="none" stroke="#2a2a2a" stroke-width="1.0"/>
<path d="M435.84,334.80L435.84,333.70M435.84,334.80L436.89,334.46M435.84,334.80L436.49,335.69M435.84,334.80L435.19,335.69M435.84,334.80L434.79,334.46" stroke="#222" stroke-width="0.8" stroke-linecap="round" fill="none"/>
<path d="M439.34,334.80L439.34,333.70M439.34,334.80L440.39,334.46M439.34,334.80L439.99,335.69M439.34,334.80L438.69,335.69M439.34,334.80L438.29,334.46" stroke="#222" stroke-width="0.8" stroke-linecap="round" fill="none"/>
<polyline points="450.50,391.50 450.50,349.50 455.50,349.50 455.50,351.50" fill="none" stroke="#2a2a2a" stroke-width="1.0"/>
<path d="M451.28,345.70L451.28,344.60M451.28,345.70L452.33,345.36M451.28,345.70L451.93,346.59M451.28,345.70L450.64,346.59M451.28,345.70L450.24,345.36" stroke="#222" stroke-width="0.8" stroke-linecap="round" fill="none"/>
<path d="M454.78,345.70L454.78,344.60M454.78,345.70L455.83,345.36M454.78,345.70L455.43,346.59M454.78,345.70L454.14,346.59M454.78,345.70L453.74,345.36" stroke="#222" stroke-width="0.8" stroke-linecap="round" fill="none"/>
<polyline points="455.50,342.50 455.50,341.50 465.50,341.50 465.50,388.50" fill="none" stroke="#2a2a2a" stroke-width="1.0"/>
<path d="M458.94,337.60L458.94,336.50M458.94,337.60L459.99,337.26M458.94,337.60L459.59,338.49M458.94,337.60L458.29,338.49M458.94,337.60L457.89,337.26" stroke="#222" stroke-width="0.8" stroke-linecap="round" fill="none"/>
<path d="M462.44,337.60L462.44,336.50M462.44,337.60L463.49,337.26M462.44,337.60L463.09,338.49M462.44,337.60L461.79,338.49M462.44,337.60L461.39,337.26" stroke="#222" stroke-width="0.8" stroke-linecap="round" fill="none"/>
<polyline points="473.50,391.50 473.50,344.50 478.50,344.50 478.50,346.50" fill="none" stroke="#2a2a2a" stroke-width="1.0"/>
<path d="M474.38,340.90L474.38,339.80M474.38,340.90L475.43,340.56M474.38,340.90L475.03,341.79M474.38,340.90L473.74,341.79M474.38,340.90L473.34,340.56" stroke="#222" stroke-width="0.8" stroke-linecap="round" fill="none"/>
<path d="M477.88,340.90L477.88,339.80M477.88,340.90L478.93,340.56M477.88,340.90L478.53,341.79M477.88,340.90L477.24,341.79M477.88,340.90L476.84,340.56" stroke="#222" stroke-width="0.8" stroke-linecap="round" fill="none"/>
<polyline points="478.50,338.50 478.50,336.50 488.50,336.50 488.50,388.50" fill="none" stroke="#2a2a2a" stroke-width="1.0"/>
<path d="M482.04,333.00L482.04,331.90M482.04,333.00L483.09,332.66M482.04,333.00L482.69,333.89M482.04,333.00L481.39,333.89M482.04,333.00L480.99,332.66" stroke="#222" stroke-width="0.8" stroke-linecap="round" fill="none"/>
<path d="M485.54,333.00L485.54,331.90M485.54,333.00L486.59,332.66M485.54,333.00L486.19,333.89M485.54,333.00L484.89,333.89M485.54,333.00L484.49,332.66" stroke="#222" stroke-width="0.8" stroke-linecap="round" fill="none"/>
<rect x="0.5" y="0.5" width="519" height="422" fill="none" stroke="#000" stroke-width="1.2"/>
</svg>
</body></html>
